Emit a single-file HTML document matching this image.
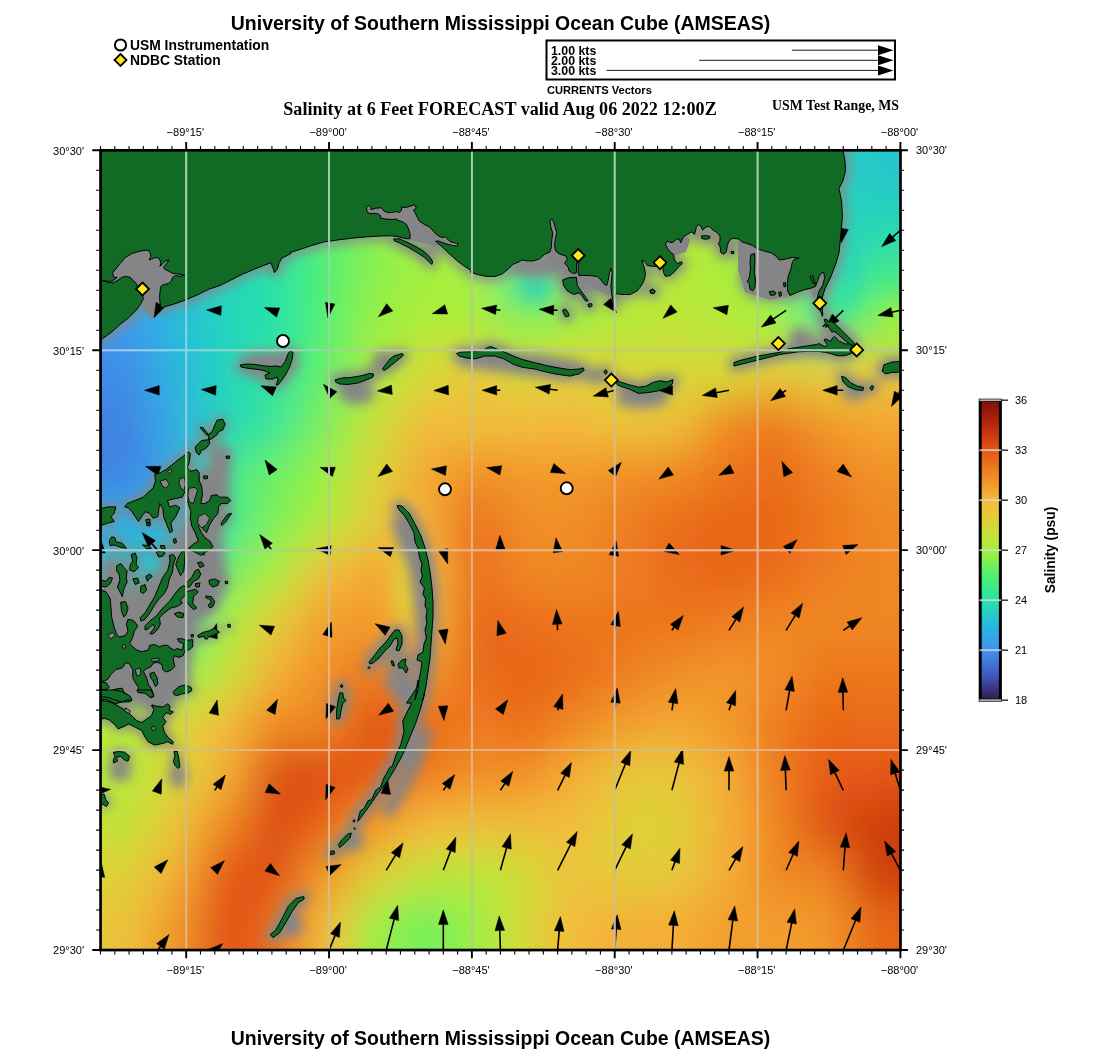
<!DOCTYPE html>
<html><head><meta charset="utf-8"><title>USM Ocean Cube</title>
<style>html,body{margin:0;padding:0;background:#fff}body{width:1100px;height:1050px;overflow:hidden}svg text{filter:url(#idt)}</style></head>
<body>
<svg width="1100" height="1050" viewBox="0 0 1100 1050" style="display:block">
<defs>
<clipPath id="mapclip"><rect x="100.55" y="150.3" width="799.95" height="799.75"/></clipPath>
<filter id="blur" x="-20%" y="-20%" width="140%" height="140%"><feGaussianBlur stdDeviation="22"/></filter>
<filter id="blur2" x="-50%" y="-50%" width="200%" height="200%"><feGaussianBlur stdDeviation="6"/></filter>
<filter id="blur3" x="-50%" y="-50%" width="200%" height="200%"><feGaussianBlur stdDeviation="10"/></filter>
<linearGradient id="cb" x1="0" y1="1" x2="0" y2="0">
<stop offset="0.0000" stop-color="#321946"/>
<stop offset="0.0833" stop-color="#415abe"/>
<stop offset="0.1667" stop-color="#4191f0"/>
<stop offset="0.2500" stop-color="#28b9dc"/>
<stop offset="0.3333" stop-color="#28e1aa"/>
<stop offset="0.4167" stop-color="#50f06e"/>
<stop offset="0.5000" stop-color="#a5f03c"/>
<stop offset="0.5833" stop-color="#d7d737"/>
<stop offset="0.6667" stop-color="#f5b93c"/>
<stop offset="0.7500" stop-color="#f08723"/>
<stop offset="0.8333" stop-color="#e45514"/>
<stop offset="0.9167" stop-color="#b9280f"/>
<stop offset="1.0000" stop-color="#7d0f0a"/>
</linearGradient>
<filter id="idt" x="-5%" y="-5%" width="110%" height="110%"><feOffset dx="0" dy="0"/></filter>
</defs>
<rect width="1100" height="1050" fill="#fff"/>
<text x="500.5" y="29.5" text-anchor="middle" style="font-family:&quot;Liberation Sans&quot;,sans-serif;font-weight:bold;font-size:19.47px">University of Southern Mississippi Ocean Cube (AMSEAS)</text>
<text x="500.5" y="1045" text-anchor="middle" style="font-family:&quot;Liberation Sans&quot;,sans-serif;font-weight:bold;font-size:19.47px">University of Southern Mississippi Ocean Cube (AMSEAS)</text>
<circle cx="120.5" cy="45" r="5.6" fill="#fff" stroke="#000" stroke-width="2"/>
<path d="M120.5 54 L126.5 60 L120.5 66 L114.5 60 Z" fill="#ffe81a" stroke="#000" stroke-width="1.8"/>
<text x="130" y="50" style="font-family:&quot;Liberation Sans&quot;,sans-serif;font-weight:bold;font-size:13.85px">USM Instrumentation</text>
<text x="130" y="65" style="font-family:&quot;Liberation Sans&quot;,sans-serif;font-weight:bold;font-size:13.85px">NDBC Station</text>
<rect x="546.5" y="40.5" width="348.5" height="39" fill="#fff" stroke="#000" stroke-width="2"/>
<text x="551" y="55" style="font-family:&quot;Liberation Sans&quot;,sans-serif;font-weight:bold;font-size:12.35px">1.00 kts</text>
<line x1="791.8" y1="50.2" x2="880" y2="50.2" stroke="#000" stroke-width="0.9"/>
<path d="M893.5 50.2 L878 45.2 L878 55.2 Z" fill="#000"/>
<text x="551" y="65" style="font-family:&quot;Liberation Sans&quot;,sans-serif;font-weight:bold;font-size:12.35px">2.00 kts</text>
<line x1="699" y1="60.300000000000004" x2="880" y2="60.300000000000004" stroke="#000" stroke-width="0.9"/>
<path d="M893.5 60.300000000000004 L878 55.300000000000004 L878 65.30000000000001 Z" fill="#000"/>
<text x="551" y="75" style="font-family:&quot;Liberation Sans&quot;,sans-serif;font-weight:bold;font-size:12.35px">3.00 kts</text>
<line x1="606.7" y1="70.4" x2="880" y2="70.4" stroke="#000" stroke-width="0.9"/>
<path d="M893.5 70.4 L878 65.4 L878 75.4 Z" fill="#000"/>
<text x="547" y="94" style="font-family:&quot;Liberation Sans&quot;,sans-serif;font-weight:bold;font-size:11.1px">CURRENTS Vectors</text>
<text x="500" y="114.5" text-anchor="middle" style="font-family:&quot;Liberation Serif&quot;,serif;font-weight:bold;font-size:18.1px">Salinity at 6 Feet FORECAST valid Aug 06 2022 12:00Z</text>
<text x="899" y="110" text-anchor="end" style="font-family:&quot;Liberation Serif&quot;,serif;font-weight:bold;font-size:13.85px">USM Test Range, MS</text>
<g clip-path="url(#mapclip)">
<rect x="100.55" y="150.3" width="799.95" height="799.75" fill="#f08723"/>
<g filter="url(#blur)">
<rect x="0" y="50" width="50.5" height="50.5" fill="#30ace3"/>
<rect x="50" y="50" width="50.5" height="50.5" fill="#30ace3"/>
<rect x="100" y="50" width="50.5" height="50.5" fill="#30ace3"/>
<rect x="150" y="50" width="50.5" height="50.5" fill="#28b9dc"/>
<rect x="200" y="50" width="50.5" height="50.5" fill="#28d4bb"/>
<rect x="250" y="50" width="50.5" height="50.5" fill="#28e1aa"/>
<rect x="300" y="50" width="50.5" height="50.5" fill="#50f06e"/>
<rect x="350" y="50" width="50.5" height="50.5" fill="#89f04d"/>
<rect x="400" y="50" width="50.5" height="50.5" fill="#a5f03c"/>
<rect x="450" y="50" width="50.5" height="50.5" fill="#a5f03c"/>
<rect x="500" y="50" width="50.5" height="50.5" fill="#43eb82"/>
<rect x="550" y="50" width="50.5" height="50.5" fill="#a5f03c"/>
<rect x="600" y="50" width="50.5" height="50.5" fill="#b6e83a"/>
<rect x="650" y="50" width="50.5" height="50.5" fill="#b6e83a"/>
<rect x="700" y="50" width="50.5" height="50.5" fill="#afeb3b"/>
<rect x="750" y="50" width="50.5" height="50.5" fill="#6cf05d"/>
<rect x="800" y="50" width="50.5" height="50.5" fill="#28d4bb"/>
<rect x="850" y="50" width="50.5" height="50.5" fill="#28c6cb"/>
<rect x="900" y="50" width="50.5" height="50.5" fill="#28c6cb"/>
<rect x="950" y="50" width="50.5" height="50.5" fill="#28c6cb"/>
<rect x="0" y="100" width="50.5" height="50.5" fill="#30ace3"/>
<rect x="50" y="100" width="50.5" height="50.5" fill="#30ace3"/>
<rect x="100" y="100" width="50.5" height="50.5" fill="#30ace3"/>
<rect x="150" y="100" width="50.5" height="50.5" fill="#28b9dc"/>
<rect x="200" y="100" width="50.5" height="50.5" fill="#28d4bb"/>
<rect x="250" y="100" width="50.5" height="50.5" fill="#28e1aa"/>
<rect x="300" y="100" width="50.5" height="50.5" fill="#50f06e"/>
<rect x="350" y="100" width="50.5" height="50.5" fill="#89f04d"/>
<rect x="400" y="100" width="50.5" height="50.5" fill="#a5f03c"/>
<rect x="450" y="100" width="50.5" height="50.5" fill="#a5f03c"/>
<rect x="500" y="100" width="50.5" height="50.5" fill="#43eb82"/>
<rect x="550" y="100" width="50.5" height="50.5" fill="#a5f03c"/>
<rect x="600" y="100" width="50.5" height="50.5" fill="#b6e83a"/>
<rect x="650" y="100" width="50.5" height="50.5" fill="#b6e83a"/>
<rect x="700" y="100" width="50.5" height="50.5" fill="#afeb3b"/>
<rect x="750" y="100" width="50.5" height="50.5" fill="#6cf05d"/>
<rect x="800" y="100" width="50.5" height="50.5" fill="#28d4bb"/>
<rect x="850" y="100" width="50.5" height="50.5" fill="#28c6cb"/>
<rect x="900" y="100" width="50.5" height="50.5" fill="#28c6cb"/>
<rect x="950" y="100" width="50.5" height="50.5" fill="#28c6cb"/>
<rect x="0" y="150" width="50.5" height="50.5" fill="#30ace3"/>
<rect x="50" y="150" width="50.5" height="50.5" fill="#30ace3"/>
<rect x="100" y="150" width="50.5" height="50.5" fill="#30ace3"/>
<rect x="150" y="150" width="50.5" height="50.5" fill="#28b9dc"/>
<rect x="200" y="150" width="50.5" height="50.5" fill="#28d4bb"/>
<rect x="250" y="150" width="50.5" height="50.5" fill="#28e1aa"/>
<rect x="300" y="150" width="50.5" height="50.5" fill="#50f06e"/>
<rect x="350" y="150" width="50.5" height="50.5" fill="#89f04d"/>
<rect x="400" y="150" width="50.5" height="50.5" fill="#a5f03c"/>
<rect x="450" y="150" width="50.5" height="50.5" fill="#a5f03c"/>
<rect x="500" y="150" width="50.5" height="50.5" fill="#43eb82"/>
<rect x="550" y="150" width="50.5" height="50.5" fill="#a5f03c"/>
<rect x="600" y="150" width="50.5" height="50.5" fill="#b6e83a"/>
<rect x="650" y="150" width="50.5" height="50.5" fill="#b6e83a"/>
<rect x="700" y="150" width="50.5" height="50.5" fill="#afeb3b"/>
<rect x="750" y="150" width="50.5" height="50.5" fill="#6cf05d"/>
<rect x="800" y="150" width="50.5" height="50.5" fill="#28d4bb"/>
<rect x="850" y="150" width="50.5" height="50.5" fill="#28c6cb"/>
<rect x="900" y="150" width="50.5" height="50.5" fill="#28c6cb"/>
<rect x="950" y="150" width="50.5" height="50.5" fill="#28c6cb"/>
<rect x="0" y="200" width="50.5" height="50.5" fill="#30ace3"/>
<rect x="50" y="200" width="50.5" height="50.5" fill="#30ace3"/>
<rect x="100" y="200" width="50.5" height="50.5" fill="#30ace3"/>
<rect x="150" y="200" width="50.5" height="50.5" fill="#28b9dc"/>
<rect x="200" y="200" width="50.5" height="50.5" fill="#28d4bb"/>
<rect x="250" y="200" width="50.5" height="50.5" fill="#28e1aa"/>
<rect x="300" y="200" width="50.5" height="50.5" fill="#50f06e"/>
<rect x="350" y="200" width="50.5" height="50.5" fill="#89f04d"/>
<rect x="400" y="200" width="50.5" height="50.5" fill="#a5f03c"/>
<rect x="450" y="200" width="50.5" height="50.5" fill="#a5f03c"/>
<rect x="500" y="200" width="50.5" height="50.5" fill="#43eb82"/>
<rect x="550" y="200" width="50.5" height="50.5" fill="#a5f03c"/>
<rect x="600" y="200" width="50.5" height="50.5" fill="#b6e83a"/>
<rect x="650" y="200" width="50.5" height="50.5" fill="#b6e83a"/>
<rect x="700" y="200" width="50.5" height="50.5" fill="#afeb3b"/>
<rect x="750" y="200" width="50.5" height="50.5" fill="#6cf05d"/>
<rect x="800" y="200" width="50.5" height="50.5" fill="#28d4bb"/>
<rect x="850" y="200" width="50.5" height="50.5" fill="#28d6b7"/>
<rect x="900" y="200" width="50.5" height="50.5" fill="#28d6b7"/>
<rect x="950" y="200" width="50.5" height="50.5" fill="#28d6b7"/>
<rect x="0" y="250" width="50.5" height="50.5" fill="#34a6e5"/>
<rect x="50" y="250" width="50.5" height="50.5" fill="#34a6e5"/>
<rect x="100" y="250" width="50.5" height="50.5" fill="#34a6e5"/>
<rect x="150" y="250" width="50.5" height="50.5" fill="#28b9dc"/>
<rect x="200" y="250" width="50.5" height="50.5" fill="#28d4bb"/>
<rect x="250" y="250" width="50.5" height="50.5" fill="#28e1aa"/>
<rect x="300" y="250" width="50.5" height="50.5" fill="#50f06e"/>
<rect x="350" y="250" width="50.5" height="50.5" fill="#89f04d"/>
<rect x="400" y="250" width="50.5" height="50.5" fill="#a5f03c"/>
<rect x="450" y="250" width="50.5" height="50.5" fill="#a5f03c"/>
<rect x="500" y="250" width="50.5" height="50.5" fill="#35e696"/>
<rect x="550" y="250" width="50.5" height="50.5" fill="#89f04d"/>
<rect x="600" y="250" width="50.5" height="50.5" fill="#afeb3b"/>
<rect x="650" y="250" width="50.5" height="50.5" fill="#afeb3b"/>
<rect x="700" y="250" width="50.5" height="50.5" fill="#afeb3b"/>
<rect x="750" y="250" width="50.5" height="50.5" fill="#89f04d"/>
<rect x="800" y="250" width="50.5" height="50.5" fill="#28d4bb"/>
<rect x="850" y="250" width="50.5" height="50.5" fill="#3de98a"/>
<rect x="900" y="250" width="50.5" height="50.5" fill="#3de98a"/>
<rect x="950" y="250" width="50.5" height="50.5" fill="#3de98a"/>
<rect x="0" y="300" width="50.5" height="50.5" fill="#3e96ed"/>
<rect x="50" y="300" width="50.5" height="50.5" fill="#3e96ed"/>
<rect x="100" y="300" width="50.5" height="50.5" fill="#3e96ed"/>
<rect x="150" y="300" width="50.5" height="50.5" fill="#28b9dc"/>
<rect x="200" y="300" width="50.5" height="50.5" fill="#28d4bb"/>
<rect x="250" y="300" width="50.5" height="50.5" fill="#28e1aa"/>
<rect x="300" y="300" width="50.5" height="50.5" fill="#50f06e"/>
<rect x="350" y="300" width="50.5" height="50.5" fill="#9af043"/>
<rect x="400" y="300" width="50.5" height="50.5" fill="#afeb3b"/>
<rect x="450" y="300" width="50.5" height="50.5" fill="#aced3b"/>
<rect x="500" y="300" width="50.5" height="50.5" fill="#89f04d"/>
<rect x="550" y="300" width="50.5" height="50.5" fill="#a5f03c"/>
<rect x="600" y="300" width="50.5" height="50.5" fill="#b6e83a"/>
<rect x="650" y="300" width="50.5" height="50.5" fill="#c0e339"/>
<rect x="700" y="300" width="50.5" height="50.5" fill="#b6e83a"/>
<rect x="750" y="300" width="50.5" height="50.5" fill="#a5f03c"/>
<rect x="800" y="300" width="50.5" height="50.5" fill="#43eb82"/>
<rect x="850" y="300" width="50.5" height="50.5" fill="#7df053"/>
<rect x="900" y="300" width="50.5" height="50.5" fill="#7df053"/>
<rect x="950" y="300" width="50.5" height="50.5" fill="#7df053"/>
<rect x="0" y="350" width="50.5" height="50.5" fill="#418ae9"/>
<rect x="50" y="350" width="50.5" height="50.5" fill="#418ae9"/>
<rect x="100" y="350" width="50.5" height="50.5" fill="#418ae9"/>
<rect x="150" y="350" width="50.5" height="50.5" fill="#2bb4df"/>
<rect x="200" y="350" width="50.5" height="50.5" fill="#28d4bb"/>
<rect x="250" y="350" width="50.5" height="50.5" fill="#30e49e"/>
<rect x="300" y="350" width="50.5" height="50.5" fill="#61f064"/>
<rect x="350" y="350" width="50.5" height="50.5" fill="#aced3b"/>
<rect x="400" y="350" width="50.5" height="50.5" fill="#d7d737"/>
<rect x="450" y="350" width="50.5" height="50.5" fill="#ebc33a"/>
<rect x="500" y="350" width="50.5" height="50.5" fill="#d7d737"/>
<rect x="550" y="350" width="50.5" height="50.5" fill="#e1cd39"/>
<rect x="600" y="350" width="50.5" height="50.5" fill="#dbd338"/>
<rect x="650" y="350" width="50.5" height="50.5" fill="#d7d737"/>
<rect x="700" y="350" width="50.5" height="50.5" fill="#d7d737"/>
<rect x="750" y="350" width="50.5" height="50.5" fill="#ebc33a"/>
<rect x="800" y="350" width="50.5" height="50.5" fill="#e1cd39"/>
<rect x="850" y="350" width="50.5" height="50.5" fill="#ebc33a"/>
<rect x="900" y="350" width="50.5" height="50.5" fill="#ebc33a"/>
<rect x="950" y="350" width="50.5" height="50.5" fill="#ebc33a"/>
<rect x="0" y="400" width="50.5" height="50.5" fill="#4182e3"/>
<rect x="50" y="400" width="50.5" height="50.5" fill="#4182e3"/>
<rect x="100" y="400" width="50.5" height="50.5" fill="#4182e3"/>
<rect x="150" y="400" width="50.5" height="50.5" fill="#30ace3"/>
<rect x="200" y="400" width="50.5" height="50.5" fill="#28d4bb"/>
<rect x="250" y="400" width="50.5" height="50.5" fill="#35e696"/>
<rect x="300" y="400" width="50.5" height="50.5" fill="#7df053"/>
<rect x="350" y="400" width="50.5" height="50.5" fill="#c6df39"/>
<rect x="400" y="400" width="50.5" height="50.5" fill="#f5b93c"/>
<rect x="450" y="400" width="50.5" height="50.5" fill="#edc13b"/>
<rect x="500" y="400" width="50.5" height="50.5" fill="#f5b93c"/>
<rect x="550" y="400" width="50.5" height="50.5" fill="#f5b93c"/>
<rect x="600" y="400" width="50.5" height="50.5" fill="#ebc33a"/>
<rect x="650" y="400" width="50.5" height="50.5" fill="#edc13b"/>
<rect x="700" y="400" width="50.5" height="50.5" fill="#f08723"/>
<rect x="750" y="400" width="50.5" height="50.5" fill="#ec761e"/>
<rect x="800" y="400" width="50.5" height="50.5" fill="#f2982b"/>
<rect x="850" y="400" width="50.5" height="50.5" fill="#f3a532"/>
<rect x="900" y="400" width="50.5" height="50.5" fill="#f3a532"/>
<rect x="950" y="400" width="50.5" height="50.5" fill="#f3a532"/>
<rect x="0" y="450" width="50.5" height="50.5" fill="#4182e3"/>
<rect x="50" y="450" width="50.5" height="50.5" fill="#4182e3"/>
<rect x="100" y="450" width="50.5" height="50.5" fill="#4182e3"/>
<rect x="150" y="450" width="50.5" height="50.5" fill="#34a6e5"/>
<rect x="200" y="450" width="50.5" height="50.5" fill="#3de98a"/>
<rect x="250" y="450" width="50.5" height="50.5" fill="#6cf05d"/>
<rect x="300" y="450" width="50.5" height="50.5" fill="#9af043"/>
<rect x="350" y="450" width="50.5" height="50.5" fill="#ddd138"/>
<rect x="400" y="450" width="50.5" height="50.5" fill="#f3a834"/>
<rect x="450" y="450" width="50.5" height="50.5" fill="#f18e26"/>
<rect x="500" y="450" width="50.5" height="50.5" fill="#f2982b"/>
<rect x="550" y="450" width="50.5" height="50.5" fill="#f2982b"/>
<rect x="600" y="450" width="50.5" height="50.5" fill="#f18e26"/>
<rect x="650" y="450" width="50.5" height="50.5" fill="#f08723"/>
<rect x="700" y="450" width="50.5" height="50.5" fill="#ec761e"/>
<rect x="750" y="450" width="50.5" height="50.5" fill="#ea6c1b"/>
<rect x="800" y="450" width="50.5" height="50.5" fill="#ee7d20"/>
<rect x="850" y="450" width="50.5" height="50.5" fill="#f19128"/>
<rect x="900" y="450" width="50.5" height="50.5" fill="#f19128"/>
<rect x="950" y="450" width="50.5" height="50.5" fill="#f19128"/>
<rect x="0" y="500" width="50.5" height="50.5" fill="#30ace3"/>
<rect x="50" y="500" width="50.5" height="50.5" fill="#30ace3"/>
<rect x="100" y="500" width="50.5" height="50.5" fill="#30ace3"/>
<rect x="150" y="500" width="50.5" height="50.5" fill="#28b9dc"/>
<rect x="200" y="500" width="50.5" height="50.5" fill="#35e696"/>
<rect x="250" y="500" width="50.5" height="50.5" fill="#7df053"/>
<rect x="300" y="500" width="50.5" height="50.5" fill="#afeb3b"/>
<rect x="350" y="500" width="50.5" height="50.5" fill="#e7c73a"/>
<rect x="400" y="500" width="50.5" height="50.5" fill="#f4af37"/>
<rect x="450" y="500" width="50.5" height="50.5" fill="#ea6c1b"/>
<rect x="500" y="500" width="50.5" height="50.5" fill="#f18e26"/>
<rect x="550" y="500" width="50.5" height="50.5" fill="#f18e26"/>
<rect x="600" y="500" width="50.5" height="50.5" fill="#ee7d20"/>
<rect x="650" y="500" width="50.5" height="50.5" fill="#ea6c1b"/>
<rect x="700" y="500" width="50.5" height="50.5" fill="#e86619"/>
<rect x="750" y="500" width="50.5" height="50.5" fill="#e86619"/>
<rect x="800" y="500" width="50.5" height="50.5" fill="#ec761e"/>
<rect x="850" y="500" width="50.5" height="50.5" fill="#f08723"/>
<rect x="900" y="500" width="50.5" height="50.5" fill="#f08723"/>
<rect x="950" y="500" width="50.5" height="50.5" fill="#f08723"/>
<rect x="0" y="550" width="50.5" height="50.5" fill="#28c6cb"/>
<rect x="50" y="550" width="50.5" height="50.5" fill="#28c6cb"/>
<rect x="100" y="550" width="50.5" height="50.5" fill="#28c6cb"/>
<rect x="150" y="550" width="50.5" height="50.5" fill="#28c6cb"/>
<rect x="200" y="550" width="50.5" height="50.5" fill="#6cf05d"/>
<rect x="250" y="550" width="50.5" height="50.5" fill="#aced3b"/>
<rect x="300" y="550" width="50.5" height="50.5" fill="#f5b93c"/>
<rect x="350" y="550" width="50.5" height="50.5" fill="#f3a532"/>
<rect x="400" y="550" width="50.5" height="50.5" fill="#f5b93c"/>
<rect x="450" y="550" width="50.5" height="50.5" fill="#ea6c1b"/>
<rect x="500" y="550" width="50.5" height="50.5" fill="#f08723"/>
<rect x="550" y="550" width="50.5" height="50.5" fill="#f08723"/>
<rect x="600" y="550" width="50.5" height="50.5" fill="#ee7d20"/>
<rect x="650" y="550" width="50.5" height="50.5" fill="#ea6c1b"/>
<rect x="700" y="550" width="50.5" height="50.5" fill="#e86619"/>
<rect x="750" y="550" width="50.5" height="50.5" fill="#ea6c1b"/>
<rect x="800" y="550" width="50.5" height="50.5" fill="#ee7d20"/>
<rect x="850" y="550" width="50.5" height="50.5" fill="#f08723"/>
<rect x="900" y="550" width="50.5" height="50.5" fill="#f08723"/>
<rect x="950" y="550" width="50.5" height="50.5" fill="#f08723"/>
<rect x="0" y="600" width="50.5" height="50.5" fill="#43eb82"/>
<rect x="50" y="600" width="50.5" height="50.5" fill="#43eb82"/>
<rect x="100" y="600" width="50.5" height="50.5" fill="#43eb82"/>
<rect x="150" y="600" width="50.5" height="50.5" fill="#43eb82"/>
<rect x="200" y="600" width="50.5" height="50.5" fill="#a5f03c"/>
<rect x="250" y="600" width="50.5" height="50.5" fill="#e7c73a"/>
<rect x="300" y="600" width="50.5" height="50.5" fill="#f29e2f"/>
<rect x="350" y="600" width="50.5" height="50.5" fill="#f2982b"/>
<rect x="400" y="600" width="50.5" height="50.5" fill="#f5b93c"/>
<rect x="450" y="600" width="50.5" height="50.5" fill="#e86619"/>
<rect x="500" y="600" width="50.5" height="50.5" fill="#ea6c1b"/>
<rect x="550" y="600" width="50.5" height="50.5" fill="#ec761e"/>
<rect x="600" y="600" width="50.5" height="50.5" fill="#ec761e"/>
<rect x="650" y="600" width="50.5" height="50.5" fill="#ec761e"/>
<rect x="700" y="600" width="50.5" height="50.5" fill="#ee7d20"/>
<rect x="750" y="600" width="50.5" height="50.5" fill="#f08723"/>
<rect x="800" y="600" width="50.5" height="50.5" fill="#f08723"/>
<rect x="850" y="600" width="50.5" height="50.5" fill="#f08723"/>
<rect x="900" y="600" width="50.5" height="50.5" fill="#f08723"/>
<rect x="950" y="600" width="50.5" height="50.5" fill="#f08723"/>
<rect x="0" y="650" width="50.5" height="50.5" fill="#89f04d"/>
<rect x="50" y="650" width="50.5" height="50.5" fill="#89f04d"/>
<rect x="100" y="650" width="50.5" height="50.5" fill="#89f04d"/>
<rect x="150" y="650" width="50.5" height="50.5" fill="#89f04d"/>
<rect x="200" y="650" width="50.5" height="50.5" fill="#c0e339"/>
<rect x="250" y="650" width="50.5" height="50.5" fill="#f4af37"/>
<rect x="300" y="650" width="50.5" height="50.5" fill="#f18e26"/>
<rect x="350" y="650" width="50.5" height="50.5" fill="#ec761e"/>
<rect x="400" y="650" width="50.5" height="50.5" fill="#f2982b"/>
<rect x="450" y="650" width="50.5" height="50.5" fill="#ea6c1b"/>
<rect x="500" y="650" width="50.5" height="50.5" fill="#e86619"/>
<rect x="550" y="650" width="50.5" height="50.5" fill="#ea6c1b"/>
<rect x="600" y="650" width="50.5" height="50.5" fill="#ee7d20"/>
<rect x="650" y="650" width="50.5" height="50.5" fill="#f18e26"/>
<rect x="700" y="650" width="50.5" height="50.5" fill="#f2982b"/>
<rect x="750" y="650" width="50.5" height="50.5" fill="#f18e26"/>
<rect x="800" y="650" width="50.5" height="50.5" fill="#ec761e"/>
<rect x="850" y="650" width="50.5" height="50.5" fill="#ec761e"/>
<rect x="900" y="650" width="50.5" height="50.5" fill="#ec761e"/>
<rect x="950" y="650" width="50.5" height="50.5" fill="#ec761e"/>
<rect x="0" y="700" width="50.5" height="50.5" fill="#b6e83a"/>
<rect x="50" y="700" width="50.5" height="50.5" fill="#b6e83a"/>
<rect x="100" y="700" width="50.5" height="50.5" fill="#b6e83a"/>
<rect x="150" y="700" width="50.5" height="50.5" fill="#d7d737"/>
<rect x="200" y="700" width="50.5" height="50.5" fill="#f5b93c"/>
<rect x="250" y="700" width="50.5" height="50.5" fill="#f08723"/>
<rect x="300" y="700" width="50.5" height="50.5" fill="#f08723"/>
<rect x="350" y="700" width="50.5" height="50.5" fill="#de4f13"/>
<rect x="400" y="700" width="50.5" height="50.5" fill="#e86619"/>
<rect x="450" y="700" width="50.5" height="50.5" fill="#ee7d20"/>
<rect x="500" y="700" width="50.5" height="50.5" fill="#ea6c1b"/>
<rect x="550" y="700" width="50.5" height="50.5" fill="#f08723"/>
<rect x="600" y="700" width="50.5" height="50.5" fill="#f29e2f"/>
<rect x="650" y="700" width="50.5" height="50.5" fill="#f3a834"/>
<rect x="700" y="700" width="50.5" height="50.5" fill="#f2982b"/>
<rect x="750" y="700" width="50.5" height="50.5" fill="#ee7d20"/>
<rect x="800" y="700" width="50.5" height="50.5" fill="#e86619"/>
<rect x="850" y="700" width="50.5" height="50.5" fill="#ea6c1b"/>
<rect x="900" y="700" width="50.5" height="50.5" fill="#ea6c1b"/>
<rect x="950" y="700" width="50.5" height="50.5" fill="#ea6c1b"/>
<rect x="0" y="750" width="50.5" height="50.5" fill="#b6e83a"/>
<rect x="50" y="750" width="50.5" height="50.5" fill="#b6e83a"/>
<rect x="100" y="750" width="50.5" height="50.5" fill="#b6e83a"/>
<rect x="150" y="750" width="50.5" height="50.5" fill="#d7d737"/>
<rect x="200" y="750" width="50.5" height="50.5" fill="#f4af37"/>
<rect x="250" y="750" width="50.5" height="50.5" fill="#db4c13"/>
<rect x="300" y="750" width="50.5" height="50.5" fill="#db4c13"/>
<rect x="350" y="750" width="50.5" height="50.5" fill="#e65c16"/>
<rect x="400" y="750" width="50.5" height="50.5" fill="#ee7d20"/>
<rect x="450" y="750" width="50.5" height="50.5" fill="#f18e26"/>
<rect x="500" y="750" width="50.5" height="50.5" fill="#f18e26"/>
<rect x="550" y="750" width="50.5" height="50.5" fill="#f4af37"/>
<rect x="600" y="750" width="50.5" height="50.5" fill="#e7c73a"/>
<rect x="650" y="750" width="50.5" height="50.5" fill="#e7c73a"/>
<rect x="700" y="750" width="50.5" height="50.5" fill="#f4af37"/>
<rect x="750" y="750" width="50.5" height="50.5" fill="#ee7d20"/>
<rect x="800" y="750" width="50.5" height="50.5" fill="#e65c16"/>
<rect x="850" y="750" width="50.5" height="50.5" fill="#e45514"/>
<rect x="900" y="750" width="50.5" height="50.5" fill="#e45514"/>
<rect x="950" y="750" width="50.5" height="50.5" fill="#e45514"/>
<rect x="0" y="800" width="50.5" height="50.5" fill="#c0e339"/>
<rect x="50" y="800" width="50.5" height="50.5" fill="#c0e339"/>
<rect x="100" y="800" width="50.5" height="50.5" fill="#c0e339"/>
<rect x="150" y="800" width="50.5" height="50.5" fill="#ebc33a"/>
<rect x="200" y="800" width="50.5" height="50.5" fill="#f08723"/>
<rect x="250" y="800" width="50.5" height="50.5" fill="#d94913"/>
<rect x="300" y="800" width="50.5" height="50.5" fill="#e86619"/>
<rect x="350" y="800" width="50.5" height="50.5" fill="#f2982b"/>
<rect x="400" y="800" width="50.5" height="50.5" fill="#f5b93c"/>
<rect x="450" y="800" width="50.5" height="50.5" fill="#f1bd3b"/>
<rect x="500" y="800" width="50.5" height="50.5" fill="#f1bd3b"/>
<rect x="550" y="800" width="50.5" height="50.5" fill="#f1bd3b"/>
<rect x="600" y="800" width="50.5" height="50.5" fill="#ddd138"/>
<rect x="650" y="800" width="50.5" height="50.5" fill="#ddd138"/>
<rect x="700" y="800" width="50.5" height="50.5" fill="#f4af37"/>
<rect x="750" y="800" width="50.5" height="50.5" fill="#f08723"/>
<rect x="800" y="800" width="50.5" height="50.5" fill="#de4f13"/>
<rect x="850" y="800" width="50.5" height="50.5" fill="#cd3d11"/>
<rect x="900" y="800" width="50.5" height="50.5" fill="#cd3d11"/>
<rect x="950" y="800" width="50.5" height="50.5" fill="#cd3d11"/>
<rect x="0" y="850" width="50.5" height="50.5" fill="#ddd138"/>
<rect x="50" y="850" width="50.5" height="50.5" fill="#ddd138"/>
<rect x="100" y="850" width="50.5" height="50.5" fill="#ddd138"/>
<rect x="150" y="850" width="50.5" height="50.5" fill="#f4af37"/>
<rect x="200" y="850" width="50.5" height="50.5" fill="#e45514"/>
<rect x="250" y="850" width="50.5" height="50.5" fill="#de4f13"/>
<rect x="300" y="850" width="50.5" height="50.5" fill="#f2982b"/>
<rect x="350" y="850" width="50.5" height="50.5" fill="#e1cd39"/>
<rect x="400" y="850" width="50.5" height="50.5" fill="#c0e339"/>
<rect x="450" y="850" width="50.5" height="50.5" fill="#b6e83a"/>
<rect x="500" y="850" width="50.5" height="50.5" fill="#d0da38"/>
<rect x="550" y="850" width="50.5" height="50.5" fill="#ebc33a"/>
<rect x="600" y="850" width="50.5" height="50.5" fill="#e1cd39"/>
<rect x="650" y="850" width="50.5" height="50.5" fill="#e7c73a"/>
<rect x="700" y="850" width="50.5" height="50.5" fill="#f4af37"/>
<rect x="750" y="850" width="50.5" height="50.5" fill="#f08723"/>
<rect x="800" y="850" width="50.5" height="50.5" fill="#ef8422"/>
<rect x="850" y="850" width="50.5" height="50.5" fill="#cd3d11"/>
<rect x="900" y="850" width="50.5" height="50.5" fill="#cd3d11"/>
<rect x="950" y="850" width="50.5" height="50.5" fill="#cd3d11"/>
<rect x="0" y="900" width="50.5" height="50.5" fill="#ebc33a"/>
<rect x="50" y="900" width="50.5" height="50.5" fill="#ebc33a"/>
<rect x="100" y="900" width="50.5" height="50.5" fill="#ebc33a"/>
<rect x="150" y="900" width="50.5" height="50.5" fill="#f2982b"/>
<rect x="200" y="900" width="50.5" height="50.5" fill="#de4f13"/>
<rect x="250" y="900" width="50.5" height="50.5" fill="#ea6c1b"/>
<rect x="300" y="900" width="50.5" height="50.5" fill="#f5b93c"/>
<rect x="350" y="900" width="50.5" height="50.5" fill="#9af043"/>
<rect x="400" y="900" width="50.5" height="50.5" fill="#6cf05d"/>
<rect x="450" y="900" width="50.5" height="50.5" fill="#9af043"/>
<rect x="500" y="900" width="50.5" height="50.5" fill="#d7d737"/>
<rect x="550" y="900" width="50.5" height="50.5" fill="#f5b93c"/>
<rect x="600" y="900" width="50.5" height="50.5" fill="#f4af37"/>
<rect x="650" y="900" width="50.5" height="50.5" fill="#f4af37"/>
<rect x="700" y="900" width="50.5" height="50.5" fill="#f29e2f"/>
<rect x="750" y="900" width="50.5" height="50.5" fill="#f29e2f"/>
<rect x="800" y="900" width="50.5" height="50.5" fill="#f2982b"/>
<rect x="850" y="900" width="50.5" height="50.5" fill="#e86619"/>
<rect x="900" y="900" width="50.5" height="50.5" fill="#e86619"/>
<rect x="950" y="900" width="50.5" height="50.5" fill="#e86619"/>
<rect x="0" y="950" width="50.5" height="50.5" fill="#ebc33a"/>
<rect x="50" y="950" width="50.5" height="50.5" fill="#ebc33a"/>
<rect x="100" y="950" width="50.5" height="50.5" fill="#ebc33a"/>
<rect x="150" y="950" width="50.5" height="50.5" fill="#f2982b"/>
<rect x="200" y="950" width="50.5" height="50.5" fill="#de4f13"/>
<rect x="250" y="950" width="50.5" height="50.5" fill="#ea6c1b"/>
<rect x="300" y="950" width="50.5" height="50.5" fill="#f5b93c"/>
<rect x="350" y="950" width="50.5" height="50.5" fill="#9af043"/>
<rect x="400" y="950" width="50.5" height="50.5" fill="#6cf05d"/>
<rect x="450" y="950" width="50.5" height="50.5" fill="#9af043"/>
<rect x="500" y="950" width="50.5" height="50.5" fill="#d7d737"/>
<rect x="550" y="950" width="50.5" height="50.5" fill="#f5b93c"/>
<rect x="600" y="950" width="50.5" height="50.5" fill="#f4af37"/>
<rect x="650" y="950" width="50.5" height="50.5" fill="#f4af37"/>
<rect x="700" y="950" width="50.5" height="50.5" fill="#f29e2f"/>
<rect x="750" y="950" width="50.5" height="50.5" fill="#f29e2f"/>
<rect x="800" y="950" width="50.5" height="50.5" fill="#f2982b"/>
<rect x="850" y="950" width="50.5" height="50.5" fill="#e86619"/>
<rect x="900" y="950" width="50.5" height="50.5" fill="#e86619"/>
<rect x="950" y="950" width="50.5" height="50.5" fill="#e86619"/>
<rect x="0" y="1000" width="50.5" height="50.5" fill="#ebc33a"/>
<rect x="50" y="1000" width="50.5" height="50.5" fill="#ebc33a"/>
<rect x="100" y="1000" width="50.5" height="50.5" fill="#ebc33a"/>
<rect x="150" y="1000" width="50.5" height="50.5" fill="#f2982b"/>
<rect x="200" y="1000" width="50.5" height="50.5" fill="#de4f13"/>
<rect x="250" y="1000" width="50.5" height="50.5" fill="#ea6c1b"/>
<rect x="300" y="1000" width="50.5" height="50.5" fill="#f5b93c"/>
<rect x="350" y="1000" width="50.5" height="50.5" fill="#9af043"/>
<rect x="400" y="1000" width="50.5" height="50.5" fill="#6cf05d"/>
<rect x="450" y="1000" width="50.5" height="50.5" fill="#9af043"/>
<rect x="500" y="1000" width="50.5" height="50.5" fill="#d7d737"/>
<rect x="550" y="1000" width="50.5" height="50.5" fill="#f5b93c"/>
<rect x="600" y="1000" width="50.5" height="50.5" fill="#f4af37"/>
<rect x="650" y="1000" width="50.5" height="50.5" fill="#f4af37"/>
<rect x="700" y="1000" width="50.5" height="50.5" fill="#f29e2f"/>
<rect x="750" y="1000" width="50.5" height="50.5" fill="#f29e2f"/>
<rect x="800" y="1000" width="50.5" height="50.5" fill="#f2982b"/>
<rect x="850" y="1000" width="50.5" height="50.5" fill="#e86619"/>
<rect x="900" y="1000" width="50.5" height="50.5" fill="#e86619"/>
<rect x="950" y="1000" width="50.5" height="50.5" fill="#e86619"/>
</g>
<g filter="url(#blur3)">
<ellipse cx="536" cy="288" rx="16" ry="12" fill="#28cec1"/>
<ellipse cx="405" cy="585" rx="9" ry="48" fill="#d9d537"/>
<ellipse cx="852" cy="255" rx="7" ry="45" fill="#28d6b7"/>
<ellipse cx="840" cy="302" rx="9" ry="14" fill="#2de3a2"/>
<ellipse cx="893" cy="325" rx="9" ry="28" fill="#aced3b"/>
</g>
<g fill="#858587">
<path d="M100 272 L112 262 L125 252 L150 248 L172 258 L186 272 L186 282 L170 286 L161 300 L163 312 L150 318 L140 300 L128 284 L112 284 L100 284 Z"/>
<path d="M362 200 L420 200 L432 232 L455 246 L460 250 L436 246 L410 240 L405 225 L380 222 L362 214 Z"/>
<path d="M548 218 L556 218 L558 250 L570 262 L580 272 L600 276 L612 282 L612 296 L596 290 L580 280 L548 262 Z"/>
<path d="M664 238 L670 230 L684 232 L690 240 L686 252 L672 256 L664 250 Z"/>
<path d="M738 240 L760 248 L790 256 L800 258 L792 276 L790 296 L770 300 L745 292 L738 270 Z"/>
<path d="M814 270 L826 270 L826 290 L818 300 L812 296 Z"/>
</g>
<g fill="#858587" stroke="#858587" stroke-linejoin="round" filter="url(#blur2)">
<path d="M90.0 140.0 L850.0 140.0 L842.9 150.0 L844.9 160.3 L845.5 170.6 L842.9 180.9 L839.0 188.6 L841.6 201.4 L842.4 216.9 L840.8 234.9 L839.0 252.9 L835.2 265.7 L830.0 278.6 L824.9 288.9 L821.8 299.2 L822.8 314.6 L822.4 316.4 L820.0 309.1 L817.3 298.2 L819.1 290.9 L822.7 285.5 L824.5 278.2 L824.0 272.7 L821.8 272.7 L819.1 276.4 L817.3 281.8 L815.5 286.4 L810.9 288.2 L803.6 290.0 L796.4 292.7 L790.0 295.5 L787.6 290.9 L787.3 283.6 L788.2 276.4 L790.9 269.1 L792.4 261.8 L794.5 259.1 L799.1 258.2 L792.7 257.3 L785.5 259.1 L779.1 260.0 L776.4 256.4 L770.9 252.7 L763.6 250.9 L756.4 248.2 L752.7 245.5 L747.3 243.6 L741.8 241.8 L739.1 239.1 L732.7 238.2 L729.1 240.9 L727.3 245.5 L726.4 251.8 L723.6 254.2 L720.9 252.7 L720.0 246.4 L718.2 243.6 L720.0 240.9 L720.0 236.4 L717.3 232.7 L712.7 230.0 L709.1 226.4 L705.5 227.3 L702.7 230.0 L700.9 226.4 L698.2 224.5 L696.4 227.3 L694.5 234.5 L691.8 231.8 L687.3 234.5 L683.6 236.4 L680.9 242.7 L679.1 239.1 L676.4 239.1 L673.6 241.8 L670.9 242.7 L667.3 240.9 L665.5 244.5 L667.3 248.2 L670.0 251.8 L673.6 254.5 L674.5 260.0 L677.3 263.6 L681.5 261.8 L682.2 263.6 L678.2 267.3 L674.5 271.8 L670.0 275.5 L665.5 276.4 L663.6 272.7 L662.7 266.4 L653.6 266.4 L647.3 265.5 L645.5 262.7 L641.8 260.0 L644.5 268.2 L645.5 274.5 L643.6 281.8 L640.0 287.3 L637.3 290.9 L630.0 294.5 L622.7 294.5 L615.5 293.6 L614.5 301.8 L613.6 307.3 L612.9 301.8 L611.8 294.5 L610.9 287.3 L611.5 280.0 L612.2 272.7 L610.9 268.2 L609.6 272.7 L608.2 280.0 L606.7 285.5 L604.5 284.5 L600.9 280.0 L597.3 276.4 L588.2 275.5 L579.1 275.5 L578.2 272.7 L578.2 262.7 L576.7 262.7 L576.4 272.7 L573.6 273.6 L569.1 270.9 L568.2 267.3 L564.5 262.7 L567.3 260.0 L566.4 256.4 L559.1 253.6 L555.5 250.9 L554.5 245.5 L555.5 238.2 L556.9 232.7 L555.1 227.3 L553.6 221.8 L551.8 219.1 L550.0 220.9 L550.9 227.3 L552.7 232.7 L551.8 240.0 L551.3 247.3 L550.0 251.8 L544.5 254.5 L539.1 259.1 L533.6 260.9 L526.4 260.9 L521.8 260.0 L519.1 261.8 L512.7 264.5 L508.2 269.1 L502.7 273.6 L495.5 276.4 L486.4 276.4 L477.3 274.5 L470.0 271.8 L471.8 270.9 L464.5 266.4 L457.3 260.9 L448.2 252.7 L440.9 245.5 L435.5 241.3 L438.2 240.9 L442.7 242.7 L448.2 244.5 L452.7 245.5 L457.3 246.0 L458.2 243.6 L451.8 242.4 L448.2 240.0 L445.5 236.9 L441.8 237.6 L437.3 235.1 L433.6 231.8 L430.0 227.3 L424.5 224.5 L419.1 220.9 L417.3 217.3 L415.5 213.6 L413.6 210.0 L416.4 208.2 L414.5 204.5 L410.9 206.0 L406.4 207.3 L401.3 207.3 L401.8 210.0 L399.1 212.7 L397.3 211.5 L393.6 212.2 L389.1 212.7 L384.5 211.5 L382.7 209.1 L380.9 207.8 L375.5 208.2 L370.9 209.6 L370.9 207.3 L369.1 205.5 L366.4 207.3 L366.9 210.9 L369.1 213.6 L372.7 213.3 L377.3 213.6 L380.4 215.5 L380.9 218.2 L386.4 219.1 L391.8 219.5 L396.4 219.1 L399.1 220.9 L402.7 221.8 L406.4 224.5 L408.2 228.2 L410.0 233.6 L410.0 238.7 L406.4 238.7 L399.1 236.9 L391.8 235.8 L380.9 236.0 L366.4 236.9 L351.8 238.2 L337.3 240.0 L324.5 241.8 L311.8 245.5 L300.9 249.1 L290.0 252.7 L290.9 253.6 L281.8 258.2 L279.1 262.7 L277.3 269.1 L274.5 272.7 L272.7 267.3 L270.9 262.7 L263.6 265.5 L254.5 269.1 L241.8 274.5 L230.9 280.0 L220.0 285.5 L209.1 289.1 L198.2 294.5 L185.5 300.0 L172.7 304.5 L160.9 307.8 L160.0 302.7 L159.6 297.3 L160.0 291.8 L160.9 286.4 L161.8 285.5 L164.5 284.5 L168.2 283.6 L170.9 281.8 L172.7 277.3 L175.5 275.5 L180.0 276.4 L184.5 275.1 L178.2 274.0 L172.7 273.3 L168.2 270.9 L164.5 269.1 L163.6 267.3 L166.4 263.6 L169.1 260.0 L165.5 260.9 L162.7 263.6 L160.0 266.4 L160.9 262.7 L159.1 258.2 L154.5 257.6 L151.8 259.1 L149.1 260.0 L150.9 256.4 L150.0 252.7 L148.2 250.0 L140.9 250.9 L131.8 253.6 L125.5 257.3 L120.0 263.6 L116.4 268.2 L112.7 272.7 L113.6 277.3 L117.3 277.3 L112.7 280.9 L108.2 281.3 L102.7 280.5 L108.2 282.4 L113.6 282.7 L118.2 280.0 L121.8 277.3 L125.5 276.4 L130.0 277.3 L136.4 283.6 L140.4 292.7 L143.6 298.2 L140.9 303.6 L136.4 310.0 L129.1 317.3 L120.0 324.5 L110.9 332.7 L101.8 339.1 L90.0 342.0 Z" stroke-width="9" fill="none"/>
<path d="M393.6 239.1 L399.1 238.7 L408.2 242.7 L417.3 247.3 L424.5 251.8 L430.0 257.3 L432.7 261.8 L431.8 264.5 L429.1 261.8 L424.5 257.3 L417.3 252.7 L408.2 247.3 L399.1 242.7 L394.5 240.9 Z" stroke-width="10"/>
<path d="M562.7 280.0 L568.2 277.8 L576.4 277.3 L577.3 285.5 L580.9 290.9 L586.4 298.2 L588.2 300.9 L585.5 300.9 L581.8 295.5 L579.1 292.7 L573.6 294.5 L567.3 290.9 L563.6 285.5 Z" stroke-width="10"/>
<path d="M588.2 304.0 L591.5 303.6 L592.2 305.8 L590.0 307.3 L588.2 306.4 Z" stroke-width="10"/>
<path d="M562.7 310.0 L565.5 309.1 L568.2 312.7 L569.1 316.0 L565.5 316.7 L563.6 313.6 Z" stroke-width="10"/>
<path d="M650.0 290.5 L652.7 289.1 L655.1 290.9 L654.0 293.1 L650.9 293.3 Z" stroke-width="10"/>
<path d="M750.9 254.5 L754.5 253.6 L754.9 261.8 L754.2 272.7 L755.5 280.0 L754.9 287.3 L752.7 290.9 L750.0 289.1 L749.1 283.6 L747.3 281.8 L749.1 278.2 L750.5 269.1 L750.0 261.8 Z" stroke-width="10"/>
<path d="M701.5 236.0 L705.5 235.5 L710.0 236.4 L709.5 238.5 L705.5 239.3 L701.8 238.5 Z" stroke-width="10"/>
<path d="M730.9 251.3 L733.6 251.3 L734.0 253.3 L731.5 253.8 Z" stroke-width="10"/>
<path d="M650.0 290.5 L652.7 289.1 L655.1 290.9 L654.5 293.1 L651.3 293.5 Z" stroke-width="10"/>
<path d="M769.1 291.8 L773.6 290.9 L776.0 292.7 L774.5 295.1 L770.5 295.3 Z" stroke-width="10"/>
<path d="M778.7 292.4 L780.9 291.8 L781.5 295.5 L779.6 296.4 Z" stroke-width="10"/>
<path d="M783.6 282.7 L785.5 282.7 L785.8 286.4 L784.0 286.9 Z" stroke-width="10"/>
<path d="M810.0 276.4 L812.4 275.5 L814.5 280.9 L815.5 284.5 L812.7 282.7 Z" stroke-width="10"/>
<path d="M734.0 362.5 L740.0 360.5 L758.0 356.0 L770.0 354.0 L780.0 352.3 L789.1 348.6 L798.2 347.3 L807.3 345.9 L816.4 344.5 L819.1 343.6 L822.7 345.5 L825.5 346.8 L827.3 344.5 L824.5 340.9 L824.5 339.1 L827.3 339.5 L830.9 341.4 L832.3 338.2 L834.5 336.4 L837.3 339.1 L839.1 341.4 L842.7 342.7 L845.5 344.1 L849.1 343.6 L851.8 345.5 L852.7 349.5 L851.8 353.2 L847.3 355.0 L841.8 355.9 L836.4 355.5 L830.9 353.6 L825.5 352.3 L818.2 351.4 L807.3 351.4 L798.2 351.8 L789.1 353.2 L780.0 354.5 L770.0 357.0 L758.0 360.0 L740.0 364.5 L734.0 366.0 Z" stroke-width="10"/>
<path d="M824.1 319.3 L826.8 319.5 L828.2 321.8 L831.8 321.4 L837.3 325.9 L842.7 331.4 L848.2 336.8 L853.6 342.3 L855.0 345.0 L852.7 345.5 L849.1 343.8 L843.6 339.3 L838.2 334.4 L834.5 331.6 L831.8 332.0 L830.0 329.3 L827.3 324.7 L822.7 326.5 L825.5 323.2 Z" stroke-width="10"/>
<path d="M841.6 376.3 L845.5 377.6 L850.6 382.8 L857.0 386.1 L863.5 387.4 L862.9 390.5 L855.7 389.7 L848.0 386.6 L842.9 381.5 Z" stroke-width="10"/>
<path d="M869.9 387.9 L872.2 385.3 L873.7 387.1 L871.7 390.5 Z" stroke-width="10"/>
<path d="M884.0 364.8 L891.7 362.2 L904.6 360.9 L904.6 371.7 L891.7 372.5 L885.3 373.8 L882.2 371.2 Z" stroke-width="10"/>
<path d="M240.0 365.0 L246.0 364.0 L254.0 364.4 L262.0 365.6 L270.0 366.4 L277.0 366.0 L281.0 367.0 L285.0 362.0 L288.0 354.0 L290.0 351.0 L293.0 352.0 L292.4 358.0 L290.0 366.0 L286.0 374.0 L282.0 380.0 L278.0 385.0 L276.0 385.0 L278.0 380.0 L277.0 377.0 L273.0 379.0 L266.0 379.0 L265.0 375.0 L270.0 373.0 L262.0 370.0 L254.0 369.0 L246.0 368.0 L241.0 367.0 Z" stroke-width="10"/>
<path d="M335.0 380.0 L342.0 378.0 L350.0 377.6 L360.0 376.0 L370.0 373.4 L373.6 374.0 L373.0 377.0 L366.0 380.0 L358.0 383.0 L348.0 384.4 L340.0 384.0 L336.0 382.4 Z" stroke-width="10"/>
<path d="M382.4 369.0 L386.0 364.0 L390.0 359.0 L394.0 356.0 L402.0 353.6 L403.6 355.0 L399.0 359.0 L394.0 363.0 L388.0 368.0 L384.0 370.6 Z" stroke-width="10"/>
<path d="M456.5 353.6 L461.3 352.0 L470.7 351.7 L482.6 350.8 L487.3 347.7 L490.8 346.5 L496.7 348.9 L503.8 351.7 L513.3 356.0 L522.7 359.6 L534.6 362.6 L546.4 365.5 L558.2 367.8 L570.0 369.7 L579.5 369.0 L583.0 367.8 L584.2 370.2 L579.5 373.7 L570.0 376.1 L558.2 374.4 L546.4 372.1 L534.6 369.0 L522.7 367.4 L513.3 364.3 L503.8 358.8 L494.4 356.0 L484.9 356.0 L475.5 358.8 L466.0 357.9 L458.9 356.0 Z" stroke-width="10"/>
<path d="M616.1 380.8 L622.0 382.5 L629.1 384.8 L638.6 387.2 L645.7 386.3 L652.8 382.5 L659.9 380.8 L667.0 382.0 L672.9 379.6 L672.4 383.9 L667.0 387.9 L657.5 391.0 L648.0 392.6 L638.6 393.4 L629.1 389.1 L622.0 386.7 L617.3 384.8 Z" stroke-width="10"/>
<path d="M603.8 371.4 L606.0 369.7 L607.4 372.1 L605.5 374.4 Z" stroke-width="10"/>
<path d="M397.0 505.6 L402.0 506.0 L409.0 513.0 L415.0 524.0 L421.0 536.0 L425.0 548.0 L428.0 560.0 L430.4 574.0 L432.0 588.0 L433.0 602.0 L433.0 616.0 L432.0 630.0 L431.0 644.0 L430.0 658.0 L428.0 672.0 L426.0 686.0 L423.0 700.0 L424.5 692.9 L420.7 708.3 L415.5 723.7 L409.1 739.1 L402.7 754.6 L395.0 768.7 L387.2 781.5 L378.3 793.1 L369.3 806.0 L359.0 820.1 L357.7 821.4 L360.3 811.1 L364.1 808.5 L368.0 800.8 L371.8 799.5 L375.7 790.5 L380.8 786.7 L383.4 779.0 L389.8 767.4 L392.4 766.1 L396.2 754.6 L400.9 744.3 L404.0 731.4 L402.7 721.1 L407.8 710.8 L411.7 703.1 L406.5 703.1 L411.7 695.4 L416.8 687.7 L418.1 680.0 L415.0 700.0 L418.0 690.0 L419.0 680.0 L421.0 670.0 L422.0 662.0 L417.0 660.0 L418.0 655.0 L423.0 652.0 L424.0 644.0 L426.4 638.0 L425.0 630.0 L427.0 622.0 L426.0 618.0 L427.2 610.0 L425.0 606.0 L425.6 599.0 L423.0 594.0 L424.4 588.0 L420.0 582.0 L422.4 576.0 L421.0 570.0 L422.0 564.0 L419.6 558.0 L418.0 548.0 L415.0 542.0 L414.0 533.0 L409.6 524.0 L404.0 515.0 L399.0 510.0 Z" stroke-width="10"/>
<path d="M369.0 662.0 L374.0 656.0 L380.0 648.0 L386.0 642.0 L391.0 635.0 L395.0 630.0 L399.0 630.0 L402.0 636.0 L402.0 644.0 L399.0 651.0 L396.0 650.0 L398.0 643.0 L397.0 638.0 L394.0 639.0 L390.0 646.0 L384.0 652.0 L379.0 658.0 L373.0 663.0 L370.0 664.0 Z" stroke-width="10"/>
<path d="M367.8 667.6 L369.0 666.4 L370.2 667.6 L369.0 668.8 Z" stroke-width="10"/>
<path d="M398.0 664.0 L402.0 660.0 L406.0 659.0 L405.0 664.0 L408.0 669.0 L406.0 673.0 L403.0 668.0 L399.0 668.0 Z" stroke-width="10"/>
<path d="M391.0 661.0 L393.0 661.0 L394.4 666.0 L392.4 665.6 Z" stroke-width="10"/>
<path d="M340.2 686.4 L341.6 685.0 L343.0 686.4 L341.6 687.8 Z" stroke-width="10"/>
<path d="M352.8 820.9 L354.1 819.6 L355.1 820.9 L354.1 822.2 Z" stroke-width="10"/>
<path d="M353.6 828.6 L354.6 827.6 L355.6 828.6 L354.6 829.6 Z" stroke-width="10"/>
<path d="M338.4 844.5 L342.3 839.4 L347.4 834.2 L351.3 833.0 L350.0 838.1 L344.8 843.2 L339.7 847.6 Z" stroke-width="10"/>
<path d="M329.9 851.7 L334.0 850.7 L334.6 853.8 L330.4 854.8 Z" stroke-width="10"/>
<path d="M339.7 692.9 L342.8 692.9 L343.5 698.0 L346.1 700.6 L342.8 703.1 L341.0 710.8 L339.7 718.6 L336.6 719.1 L336.6 710.8 L337.9 701.9 Z" stroke-width="10"/>
<path d="M340.5 685.7 L341.7 684.4 L343.0 685.7 L341.7 686.9 Z" stroke-width="10"/>
<path d="M270.3 934.5 L275.4 930.6 L281.9 919.1 L288.3 906.2 L296.0 898.5 L303.7 896.5 L304.2 899.0 L298.6 902.4 L292.1 911.4 L285.7 922.9 L279.3 933.2 L272.9 937.6 Z" stroke-width="10"/>
<path d="M217.0 420.2 L222.7 419.1 L225.1 424.3 L222.7 430.0 L218.6 431.6 L217.0 434.8 L211.4 438.9 L208.9 439.7 L208.1 434.8 L212.2 431.6 L214.6 425.9 Z" stroke-width="5"/>
<path d="M201.6 440.5 L208.9 439.7 L209.7 443.7 L205.7 448.6 L201.6 450.2 L199.2 455.1 L196.0 451.8 L195.2 447.0 L198.4 443.7 Z" stroke-width="5"/>
<path d="M200.0 427.5 L202.5 427.2 L208.1 434.0 L206.8 435.3 Z" stroke-width="5"/>
<path d="M183.8 455.9 L187.9 451.8 L190.3 453.4 L189.5 461.5 L187.1 468.0 L191.1 471.3 L196.8 469.6 L199.2 472.9 L199.2 481.0 L201.6 485.8 L202.5 493.9 L200.8 503.6 L204.9 503.6 L209.7 500.4 L211.4 495.5 L217.0 494.7 L219.5 497.2 L227.6 497.2 L230.8 500.4 L227.6 503.6 L221.1 503.6 L218.6 506.9 L217.8 513.4 L213.8 518.2 L209.7 524.7 L206.5 532.8 L203.3 529.6 L201.6 523.1 L198.4 526.3 L201.6 532.8 L204.9 537.7 L209.7 540.9 L213.0 546.6 L209.7 549.8 L204.9 552.2 L201.6 555.5 L195.2 552.2 L188.7 548.2 L193.5 544.1 L198.4 540.9 L195.2 532.8 L191.9 526.3 L190.3 518.2 L191.1 511.7 L188.7 505.3 L186.3 497.2 L185.4 490.7 L182.2 497.2 L174.1 498.8 L167.6 500.4 L169.3 506.9 L175.7 505.3 L179.8 507.7 L175.7 516.6 L170.9 523.1 L172.5 531.2 L170.1 532.8 L166.8 524.7 L163.6 516.6 L162.8 508.5 L159.5 503.6 L157.9 516.6 L153.1 518.2 L149.8 513.4 L145.0 511.7 L141.7 516.6 L138.5 521.5 L135.2 516.6 L132.0 511.7 L128.0 507.7 L124.7 506.9 L127.1 503.6 L135.2 500.4 L143.3 497.2 L148.2 492.3 L153.1 488.3 L155.5 481.0 L154.7 474.5 L157.1 473.7 L160.3 472.9 L166.0 469.6 L174.1 463.2 L179.0 459.1 Z" stroke-width="5"/>
<path d="M101.2 508.5 L107.7 506.9 L115.8 506.9 L114.2 513.4 L111.0 516.6 L114.2 521.5 L107.7 523.1 L101.2 525.5 Z" stroke-width="5"/>
<path d="M111.8 536.8 L115.0 537.7 L115.8 541.7 L122.3 543.3 L126.3 548.2 L120.7 547.4 L114.2 544.9 L110.1 545.7 L109.3 540.9 Z" stroke-width="5"/>
<path d="M221.1 523.1 L227.6 514.2 L231.6 513.4 L225.9 521.5 L221.9 525.5 Z" stroke-width="5"/>
<path d="M145.8 519.8 L149.8 519.0 L150.1 522.3 L146.6 523.1 Z" stroke-width="5"/>
<path d="M146.6 523.1 L150.6 523.4 L149.8 526.0 L146.6 525.5 Z" stroke-width="5"/>
<path d="M173.3 539.3 L175.7 538.5 L176.5 542.5 L174.1 543.3 Z" stroke-width="5"/>
<path d="M225.9 456.4 L229.2 455.9 L229.5 458.3 L226.7 458.6 Z" stroke-width="5"/>
<path d="M203.3 476.1 L207.3 475.8 L207.5 478.5 L204.1 479.0 Z" stroke-width="5"/>
<path d="M142.5 544.9 L148.2 545.7 L151.4 548.2 L146.6 548.7 Z" stroke-width="5"/>
<path d="M160.3 545.7 L164.4 545.4 L165.2 549.0 L161.2 548.7 Z" stroke-width="5"/>
<path d="M101.2 590.2 L106.1 591.8 L110.1 598.3 L111.0 608.0 L111.8 617.7 L114.2 627.4 L116.6 633.9 L119.1 637.2 L125.5 635.5 L128.0 630.7 L126.3 624.2 L128.0 619.4 L132.8 620.2 L136.1 623.4 L137.7 626.6 L134.4 630.7 L132.8 637.2 L129.6 643.6 L132.8 646.9 L136.9 650.1 L141.7 651.7 L148.2 650.1 L149.8 645.3 L154.7 644.5 L159.5 646.9 L162.8 645.3 L167.6 645.3 L170.1 647.7 L174.1 650.1 L177.4 648.5 L182.2 650.1 L183.8 643.6 L179.0 642.0 L177.4 638.8 L182.2 638.8 L186.3 640.4 L192.7 639.6 L192.7 646.9 L188.7 650.1 L185.4 650.1 L183.0 655.8 L179.0 657.4 L174.1 655.8 L173.3 659.8 L174.9 666.3 L170.9 670.4 L166.0 672.0 L162.8 669.6 L162.0 664.7 L157.9 662.3 L153.1 663.1 L151.4 666.3 L146.6 668.7 L143.3 671.2 L146.6 677.7 L148.2 684.1 L151.4 689.0 L153.9 695.5 L151.4 697.9 L148.2 693.8 L145.0 690.6 L141.7 693.0 L137.7 692.2 L138.5 687.4 L135.2 682.5 L132.8 677.7 L132.8 669.6 L128.8 663.1 L125.5 663.1 L122.3 667.9 L115.8 669.6 L111.0 674.4 L107.7 679.3 L104.5 680.9 L96.4 682.5 L96.4 590.2 Z" stroke-width="5"/>
<path d="M140.1 617.7 L145.0 612.9 L149.8 604.8 L154.7 596.7 L158.7 587.0 L162.8 577.2 L167.6 570.8 L170.1 561.1 L169.3 555.4 L173.3 554.6 L175.7 557.8 L173.3 564.3 L172.5 572.4 L169.3 578.9 L167.6 587.0 L164.4 593.4 L159.5 598.3 L154.7 604.8 L149.8 612.9 L145.0 619.4 L140.9 621.0 Z" stroke-width="5"/>
<path d="M145.0 625.8 L149.8 621.0 L156.3 616.1 L162.8 608.0 L169.3 601.5 L174.1 595.1 L179.0 588.6 L183.8 585.3 L186.3 588.6 L185.4 595.1 L180.6 599.9 L182.2 603.2 L177.4 606.4 L170.9 608.0 L164.4 612.9 L159.5 617.7 L160.3 624.2 L157.9 629.1 L153.1 633.9 L149.8 633.9 L154.7 627.4 L153.1 624.2 L148.2 629.1 L145.0 629.9 Z" stroke-width="5"/>
<path d="M186.3 591.8 L195.2 589.4 L198.4 591.8 L193.5 596.7 L192.7 603.2 L196.8 608.0 L193.5 609.6 L188.7 604.8 L186.3 601.5 Z" stroke-width="5"/>
<path d="M175.7 564.3 L179.0 556.2 L182.2 551.3 L185.4 552.1 L184.6 561.1 L183.8 570.8 L180.6 575.6 L178.2 570.8 Z" stroke-width="5"/>
<path d="M187.1 582.1 L191.9 577.2 L195.2 570.8 L198.4 569.1 L200.8 574.0 L198.4 578.9 L193.5 581.3 L189.5 587.0 L187.1 587.0 Z" stroke-width="5"/>
<path d="M116.6 565.9 L120.7 563.5 L123.9 567.5 L127.1 570.8 L126.3 577.2 L127.1 582.1 L123.9 588.6 L122.3 596.7 L119.1 590.2 L117.4 587.0 L119.9 580.5 L119.1 574.0 L116.6 570.8 Z" stroke-width="5"/>
<path d="M131.2 554.6 L135.2 553.0 L136.9 557.8 L136.1 564.3 L138.5 567.5 L134.4 571.6 L129.6 570.0 L130.4 564.3 L132.8 561.1 Z" stroke-width="5"/>
<path d="M96.4 578.9 L106.1 581.3 L109.3 577.2 L112.6 578.1 L110.1 583.7 L106.1 587.0 L96.4 585.3 Z" stroke-width="5"/>
<path d="M132.8 578.9 L137.7 578.1 L139.3 582.9 L135.2 584.5 Z" stroke-width="5"/>
<path d="M140.9 586.2 L145.0 584.5 L146.6 590.2 L143.3 593.4 L140.4 591.8 Z" stroke-width="5"/>
<path d="M145.8 576.4 L149.8 574.0 L152.3 576.4 L149.0 578.9 L147.4 581.3 Z" stroke-width="5"/>
<path d="M120.7 602.3 L125.5 601.5 L128.0 608.0 L126.3 614.5 L123.9 616.9 L121.5 611.3 Z" stroke-width="5"/>
<path d="M208.9 580.5 L214.6 578.9 L219.5 581.3 L217.8 585.3 L213.0 587.0 L209.7 584.5 Z" stroke-width="5"/>
<path d="M205.7 595.9 L211.4 596.7 L214.6 601.5 L213.0 606.4 L209.7 608.0 L208.1 604.8 L211.4 602.3 L209.7 599.1 L206.2 598.0 Z" stroke-width="5"/>
<path d="M197.6 635.5 L203.3 632.3 L209.7 630.7 L214.6 628.3 L219.5 632.3 L213.0 635.5 L208.1 637.2 L207.3 639.1 L204.9 638.8 L204.1 636.4 L198.4 637.5 Z" stroke-width="5"/>
<path d="M174.1 613.7 L179.0 612.1 L183.8 613.7 L183.0 617.7 L177.4 616.9 Z" stroke-width="5"/>
<path d="M173.3 691.4 L179.0 686.6 L185.4 684.9 L191.1 687.4 L191.9 690.6 L187.9 693.0 L182.2 693.8 L177.4 695.5 L174.1 694.7 Z" stroke-width="5"/>
<path d="M149.8 673.6 L153.9 672.0 L157.1 677.7 L157.9 684.1 L155.5 686.6 L153.1 680.9 L150.6 677.7 Z" stroke-width="5"/>
<path d="M96.4 693.8 L107.7 692.2 L115.8 689.0 L122.3 688.2 L123.9 692.2 L128.8 695.5 L132.0 700.3 L128.8 701.9 L122.3 701.9 L115.8 703.6 L111.0 701.9 L106.1 699.5 L96.4 700.3 Z" stroke-width="5"/>
<path d="M96.4 680.9 L106.1 682.5 L109.3 687.4 L106.1 689.8 L96.4 689.0 Z" stroke-width="5"/>
<path d="M156.3 552.1 L162.0 550.5 L165.2 553.0 L162.8 556.2 L158.7 557.0 Z" stroke-width="5"/>
<path d="M197.6 562.7 L201.6 561.9 L204.1 565.9 L200.0 567.5 Z" stroke-width="5"/>
<path d="M195.2 583.7 L200.0 582.9 L199.2 587.0 L196.0 587.0 Z" stroke-width="5"/>
<path d="M225.1 581.3 L227.6 581.3 L227.6 583.7 L225.4 583.7 Z" stroke-width="5"/>
<path d="M227.6 624.5 L230.0 624.2 L230.5 627.1 L228.0 627.4 Z" stroke-width="5"/>
<path d="M191.1 634.7 L193.2 634.4 L193.5 636.8 L191.4 637.2 Z" stroke-width="5"/>
<path d="M96.4 699.7 L107.7 701.3 L115.8 704.6 L123.9 709.4 L130.4 714.3 L136.9 720.8 L141.7 722.4 L146.6 719.1 L151.4 715.9 L153.9 709.4 L151.4 705.4 L156.3 706.2 L162.8 707.0 L167.6 703.8 L170.1 706.2 L169.3 710.2 L173.3 711.9 L170.9 714.3 L166.0 712.7 L162.8 717.5 L166.0 721.6 L162.8 726.4 L164.4 732.1 L167.6 737.0 L173.3 741.8 L172.5 744.3 L167.6 741.8 L162.8 743.4 L154.7 745.1 L148.2 741.8 L145.0 737.0 L141.7 730.5 L135.2 727.2 L128.8 724.0 L123.9 726.4 L118.2 728.9 L114.2 724.0 L109.3 720.0 L104.5 718.3 L96.4 720.0 Z" stroke-width="5"/>
<path d="M96.4 690.0 L114.2 690.0 L122.3 691.6 L130.4 696.5 L132.0 700.5 L127.1 699.7 L122.3 702.1 L114.2 699.7 L107.7 697.3 L96.4 696.5 Z" stroke-width="5"/>
<path d="M113.4 752.3 L119.1 751.5 L124.7 752.3 L129.6 756.4 L128.0 761.3 L123.9 759.6 L120.7 756.4 L116.6 757.2 L117.4 761.3 L113.4 762.9 L113.4 759.6 L115.0 756.4 Z" stroke-width="5"/>
<path d="M174.1 751.5 L177.4 751.5 L179.0 759.6 L179.8 766.9 L178.2 768.5 L174.9 765.3 L173.3 761.3 L174.9 756.4 Z" stroke-width="5"/>
<path d="M99.0 795.0 L104.0 794.0 L106.0 800.0 L108.5 803.0 L106.5 806.5 L102.0 804.0 L99.0 800.0 Z" stroke-width="5"/>
<path d="M136.9 690.0 L151.4 690.0 L153.9 696.5 L149.8 697.3 L145.0 693.2 L138.5 692.4 Z" stroke-width="5"/>
<ellipse cx="150" cy="302" rx="11" ry="9" stroke="none"/>
<ellipse cx="440" cy="245" rx="16" ry="7" stroke="none"/>
<path d="M512 268 L530 262 L560 255 L585 268 L610 272 L612 300 L590 290 L575 278 L540 272 L515 274 Z" stroke="none"/>
<ellipse cx="592" cy="283" rx="16" ry="9" stroke="none"/>
<ellipse cx="765" cy="278" rx="26" ry="22" stroke="none"/>
<ellipse cx="535" cy="270" rx="30" ry="7" stroke="none"/>
<ellipse cx="801" cy="336" rx="12" ry="8" stroke="none"/>
<ellipse cx="838" cy="340" rx="9" ry="5" stroke="none"/>
<ellipse cx="268" cy="365" rx="31" ry="14" stroke="none"/>
<ellipse cx="357" cy="394" rx="18" ry="10" stroke="none"/>
<ellipse cx="382" cy="362" rx="10" ry="12" stroke="none"/>
<path d="M458 352 L500 351 L540 354 L585 362 L588 378 L560 380 L500 372 L458 366 Z" stroke="none"/>
<ellipse cx="642" cy="399" rx="27" ry="9" stroke="none"/>
<ellipse cx="853" cy="394" rx="10" ry="7" stroke="none"/>
<ellipse cx="596" cy="376" rx="10" ry="8" stroke="none"/>
<ellipse cx="338" cy="706" rx="9" ry="14" stroke="none"/>
<ellipse cx="292" cy="926" rx="11" ry="11" stroke="none"/>
<ellipse cx="120" cy="772" rx="12" ry="9" stroke="none"/>
<ellipse cx="178" cy="776" rx="9" ry="12" stroke="none"/>
<ellipse cx="352" cy="842" rx="12" ry="9" stroke="none"/>
<ellipse cx="410" cy="752" rx="10" ry="14" stroke="none"/>
<path d="M427 728 L415 763 L399 793 L385 815" fill="none" stroke-width="13"/>
<path d="M397 518 L404 535 L409 552" fill="none" stroke-width="16"/>
<path d="M409 552 L415 575 L419 600 L421 630 L421 660 L418 690" fill="none" stroke-width="9"/>
<path d="M392 672 L402 688 L412 702" fill="none" stroke-width="24"/>
<path d="M100 560 L118 555 L128 590 L150 585 L175 540 L205 470 L215 440 L232 450 L228 500 L222 540 L228 580 L218 610 L196 625 L192 660 L188 690 L165 715 L130 705 L100 700 Z" stroke="none"/>
</g>
<path d="M841.2 243.1 L838.8 228.0 L848.3 229.5 Z M881.7 246.6 L889.6 233.4 L895.9 240.6 Z M154.0 317.7 L156.1 302.4 L164.8 306.7 Z M206.6 309.9 L221.4 305.8 L220.9 315.4 Z M264.4 307.6 L279.7 308.0 L276.5 317.1 Z M327.9 317.7 L325.4 302.5 L334.9 304.0 Z M378.5 316.7 L386.6 303.7 L392.8 311.0 Z M432.2 313.7 L444.8 304.8 L447.6 314.0 Z M481.6 308.3 L496.6 305.1 L495.6 314.6 Z M539.1 309.3 L553.9 305.3 L553.4 314.9 Z M616.6 312.6 L603.6 304.5 L610.9 298.3 Z M663.0 318.3 L670.7 304.9 L677.1 312.1 Z M713.2 307.8 L728.4 305.3 L726.9 314.8 Z M761.3 327.1 L770.7 314.9 L776.0 322.9 Z M825.3 327.7 L832.4 314.1 L839.1 321.0 Z M877.8 315.5 L890.9 307.6 L893.1 316.9 Z M144.6 390.3 L159.2 385.5 L159.2 395.1 Z M201.4 389.6 L216.2 385.6 L215.7 395.2 Z M260.9 385.7 L276.3 386.9 L272.5 395.8 Z M323.4 384.3 L336.9 391.7 L329.9 398.3 Z M377.3 391.1 L391.4 385.0 L392.3 394.6 Z M433.8 390.6 L448.2 385.3 L448.6 394.9 Z M482.1 390.3 L496.7 385.5 L496.7 395.1 Z M535.4 387.2 L550.5 384.5 L549.2 394.0 Z M593.1 396.1 L605.9 387.7 L608.4 397.0 Z M657.9 390.3 L672.5 385.5 L672.5 395.1 Z M702.1 395.5 L715.5 388.0 L717.3 397.5 Z M770.7 400.7 L780.1 388.6 L785.5 396.5 Z M822.6 390.3 L837.2 385.5 L837.2 395.1 Z M891.5 406.4 L894.4 391.3 L902.8 396.0 Z M145.6 466.4 L160.9 466.3 L158.0 475.5 Z M265.0 460.1 L277.2 469.5 L269.2 474.9 Z M320.0 467.4 L335.4 467.3 L332.4 476.4 Z M378.0 476.5 L386.7 463.9 L392.5 471.5 Z M431.5 469.1 L446.5 465.8 L445.5 475.4 Z M486.5 467.6 L501.8 465.7 L499.9 475.1 Z M565.7 473.6 L550.3 472.5 L553.9 463.6 Z M621.4 462.3 L615.7 476.6 L608.3 470.4 Z M658.8 479.1 L668.2 467.0 L673.5 475.0 Z M718.7 475.3 L729.8 464.6 L734.0 473.2 Z M782.0 461.4 L792.5 472.6 L783.8 476.7 Z M851.5 477.0 L837.1 471.5 L843.2 464.1 Z M100.5 538.3 L105.3 552.9 L95.7 552.9 Z M142.3 532.7 L155.5 540.6 L148.3 546.9 Z M189.8 550.3 L204.4 545.5 L204.4 555.1 Z M259.7 534.6 L272.4 543.2 L264.9 549.1 Z M316.1 548.7 L331.2 545.7 L330.0 555.3 Z M378.0 547.6 L393.4 547.6 L390.4 556.7 Z M447.7 563.9 L438.7 551.5 L447.8 548.5 Z M499.9 535.3 L505.2 549.7 L495.6 550.1 Z M556.0 537.7 L562.6 551.6 L553.1 552.8 Z M616.2 541.0 L618.6 556.2 L609.2 554.7 Z M679.3 554.6 L664.3 551.5 L669.1 543.1 Z M735.7 550.3 L721.1 555.1 L721.1 545.5 Z M797.1 539.7 L790.0 553.3 L783.3 546.4 Z M858.0 544.6 L846.1 554.4 L842.7 545.4 Z M216.7 623.6 L217.3 638.9 L208.1 636.3 Z M259.3 625.2 L274.6 626.2 L271.0 635.1 Z M331.4 621.9 L332.0 637.3 L322.8 634.6 Z M375.1 623.7 L390.1 627.1 L385.2 635.3 Z M445.3 644.2 L438.5 630.4 L448.0 629.0 Z M497.8 620.4 L506.2 633.2 L496.9 635.7 Z M556.5 609.5 L562.1 623.9 L552.5 624.4 Z M618.4 611.3 L620.3 626.5 L610.9 624.7 Z M683.3 615.6 L678.1 630.1 L670.5 624.2 Z M743.6 607.0 L739.9 621.9 L731.8 616.8 Z M802.7 603.2 L799.2 618.1 L791.0 613.1 Z M861.8 617.8 L852.3 630.0 L847.0 622.0 Z M152.3 704.4 L165.6 712.0 L158.5 718.4 Z M217.2 700.0 L218.5 715.3 L209.2 713.1 Z M277.5 699.3 L275.1 714.5 L266.6 710.2 Z M326.0 718.8 L326.4 703.4 L335.5 706.7 Z M378.6 715.2 L388.3 703.2 L393.5 711.3 Z M443.9 720.6 L438.3 706.3 L447.9 705.8 Z M507.8 699.8 L503.3 714.5 L495.5 709.0 Z M562.6 694.0 L562.9 709.4 L553.7 706.6 Z M617.2 688.1 L620.3 703.2 L610.8 702.1 Z M675.7 688.6 L677.9 703.8 L668.4 702.2 Z M735.7 690.4 L735.6 705.8 L726.5 702.7 Z M792.1 676.2 L794.3 691.4 L784.9 689.8 Z M842.7 677.7 L847.7 692.2 L838.2 692.4 Z M110.5 789.4 L96.3 795.5 L95.5 785.9 Z M161.8 778.8 L161.3 794.2 L152.3 790.9 Z M225.4 775.1 L221.0 789.8 L213.1 784.3 Z M280.5 794.1 L265.2 792.6 L269.1 783.8 Z M325.6 799.7 L326.1 784.3 L335.1 787.6 Z M387.5 779.4 L390.5 794.5 L381.0 793.3 Z M454.7 774.6 L450.0 789.2 L442.3 783.6 Z M512.8 771.3 L508.8 786.2 L500.8 781.0 Z M571.5 762.3 L569.3 777.5 L560.7 773.2 Z M630.8 750.4 L629.8 765.8 L620.9 762.2 Z M682.7 749.1 L683.6 764.4 L674.3 762.0 Z M729.0 756.5 L733.8 771.1 L724.2 771.1 Z M784.9 755.6 L790.2 770.0 L780.6 770.4 Z M828.6 759.4 L839.2 770.5 L830.5 774.7 Z M890.9 759.3 L899.8 771.9 L890.6 774.7 Z M101.2 862.3 L104.7 877.3 L95.1 876.5 Z M167.8 859.8 L161.1 873.6 L154.2 867.0 Z M224.4 860.7 L217.5 874.4 L210.7 867.6 Z M279.5 875.8 L264.9 871.1 L270.5 863.4 Z M341.2 864.6 L330.0 875.2 L325.9 866.5 Z M403.1 842.8 L399.6 857.8 L391.4 852.7 Z M455.9 837.1 L455.2 852.5 L446.2 849.1 Z M510.5 833.9 L511.3 849.2 L502.0 846.7 Z M577.2 831.4 L574.9 846.6 L566.4 842.3 Z M632.5 833.8 L630.4 849.0 L621.8 844.8 Z M680.0 848.2 L679.5 863.5 L670.5 860.2 Z M742.9 846.6 L739.7 861.6 L731.4 856.7 Z M798.9 841.0 L797.5 856.3 L788.7 852.4 Z M846.1 832.9 L849.8 847.8 L840.2 847.1 Z M884.6 840.9 L895.7 851.5 L887.3 856.0 Z M169.0 934.6 L164.3 949.2 L156.6 943.6 Z M222.8 943.6 L214.7 956.6 L208.5 949.3 Z M340.5 922.0 L339.4 937.4 L330.5 933.8 Z M397.7 905.2 L398.7 920.6 L389.4 918.2 Z M443.3 909.8 L448.1 924.4 L438.5 924.4 Z M499.2 915.9 L504.6 930.3 L495.0 930.7 Z M560.4 916.5 L564.0 931.5 L554.4 930.7 Z M617.2 914.7 L621.0 929.6 L611.4 928.9 Z M674.3 910.8 L678.2 925.7 L668.6 925.0 Z M734.7 905.9 L737.6 921.0 L728.1 919.7 Z M794.7 908.9 L796.4 924.1 L787.0 922.2 Z M861.0 907.0 L859.9 922.3 L851.0 918.7 Z" fill="#000" stroke="#000" stroke-width="0.5" stroke-linejoin="miter"/>
<path d="M900.4 230.3 L892.7 237.0 M500.4 310.3 L496.1 309.8 M557.6 310.3 L553.7 310.1 M786.1 310.3 L773.4 318.9 M843.3 310.3 L835.8 317.5 M900.4 310.3 L892.0 312.2 M500.4 390.3 L496.7 390.3 M557.6 390.3 L549.9 389.2 M614.7 390.3 L607.2 392.3 M729.0 390.3 L716.4 392.7 M786.1 390.3 L782.8 392.5 M843.3 390.3 L837.2 390.3 M900.4 390.3 L898.6 393.6 M157.6 550.3 L151.9 543.7 M214.8 550.3 L204.4 550.3 M271.9 550.3 L268.6 546.1 M557.6 630.3 L557.3 624.1 M614.7 630.3 L615.6 625.6 M671.9 630.3 L674.3 627.1 M729.0 630.3 L735.8 619.4 M786.1 630.3 L795.1 615.6 M843.3 630.3 L849.6 626.0 M557.6 710.3 L558.3 708.0 M614.7 710.3 L615.6 702.6 M671.9 710.3 L673.1 703.0 M729.0 710.3 L731.0 704.2 M786.1 710.3 L789.6 690.6 M843.3 710.3 L842.9 692.3 M214.8 790.3 L217.1 787.0 M443.3 790.3 L446.1 786.4 M500.4 790.3 L504.8 783.6 M557.6 790.3 L565.0 775.3 M614.7 790.3 L625.4 764.0 M671.9 790.3 L679.0 763.2 M729.0 790.3 L729.0 771.1 M786.1 790.3 L785.4 770.2 M843.3 790.3 L834.9 772.6 M900.4 790.3 L895.2 773.3 M386.2 870.3 L395.5 855.2 M443.3 870.3 L450.7 850.8 M500.4 870.3 L506.6 847.9 M557.6 870.3 L570.7 844.4 M614.7 870.3 L626.1 846.9 M671.9 870.3 L675.0 861.9 M729.0 870.3 L735.5 859.2 M786.1 870.3 L793.1 854.3 M843.3 870.3 L845.0 847.5 M900.4 870.3 L891.5 853.7 M157.6 950.3 L160.5 946.4 M329.0 950.3 L335.0 935.6 M386.2 950.3 L394.1 919.4 M443.3 950.3 L443.3 924.4 M500.4 950.3 L499.8 930.5 M557.6 950.3 L559.2 931.1 M614.7 950.3 L616.2 929.3 M671.9 950.3 L673.4 925.3 M729.0 950.3 L732.8 920.3 M786.1 950.3 L791.7 923.2 M843.3 950.3 L855.5 920.5" fill="none" stroke="#000" stroke-width="1.6"/>
<g fill="#116b25" stroke="#000" stroke-width="1" stroke-linejoin="round">
<path d="M90.0 140.0 L850.0 140.0 L842.9 150.0 L844.9 160.3 L845.5 170.6 L842.9 180.9 L839.0 188.6 L841.6 201.4 L842.4 216.9 L840.8 234.9 L839.0 252.9 L835.2 265.7 L830.0 278.6 L824.9 288.9 L821.8 299.2 L822.8 314.6 L822.4 316.4 L820.0 309.1 L817.3 298.2 L819.1 290.9 L822.7 285.5 L824.5 278.2 L824.0 272.7 L821.8 272.7 L819.1 276.4 L817.3 281.8 L815.5 286.4 L810.9 288.2 L803.6 290.0 L796.4 292.7 L790.0 295.5 L787.6 290.9 L787.3 283.6 L788.2 276.4 L790.9 269.1 L792.4 261.8 L794.5 259.1 L799.1 258.2 L792.7 257.3 L785.5 259.1 L779.1 260.0 L776.4 256.4 L770.9 252.7 L763.6 250.9 L756.4 248.2 L752.7 245.5 L747.3 243.6 L741.8 241.8 L739.1 239.1 L732.7 238.2 L729.1 240.9 L727.3 245.5 L726.4 251.8 L723.6 254.2 L720.9 252.7 L720.0 246.4 L718.2 243.6 L720.0 240.9 L720.0 236.4 L717.3 232.7 L712.7 230.0 L709.1 226.4 L705.5 227.3 L702.7 230.0 L700.9 226.4 L698.2 224.5 L696.4 227.3 L694.5 234.5 L691.8 231.8 L687.3 234.5 L683.6 236.4 L680.9 242.7 L679.1 239.1 L676.4 239.1 L673.6 241.8 L670.9 242.7 L667.3 240.9 L665.5 244.5 L667.3 248.2 L670.0 251.8 L673.6 254.5 L674.5 260.0 L677.3 263.6 L681.5 261.8 L682.2 263.6 L678.2 267.3 L674.5 271.8 L670.0 275.5 L665.5 276.4 L663.6 272.7 L662.7 266.4 L653.6 266.4 L647.3 265.5 L645.5 262.7 L641.8 260.0 L644.5 268.2 L645.5 274.5 L643.6 281.8 L640.0 287.3 L637.3 290.9 L630.0 294.5 L622.7 294.5 L615.5 293.6 L614.5 301.8 L613.6 307.3 L612.9 301.8 L611.8 294.5 L610.9 287.3 L611.5 280.0 L612.2 272.7 L610.9 268.2 L609.6 272.7 L608.2 280.0 L606.7 285.5 L604.5 284.5 L600.9 280.0 L597.3 276.4 L588.2 275.5 L579.1 275.5 L578.2 272.7 L578.2 262.7 L576.7 262.7 L576.4 272.7 L573.6 273.6 L569.1 270.9 L568.2 267.3 L564.5 262.7 L567.3 260.0 L566.4 256.4 L559.1 253.6 L555.5 250.9 L554.5 245.5 L555.5 238.2 L556.9 232.7 L555.1 227.3 L553.6 221.8 L551.8 219.1 L550.0 220.9 L550.9 227.3 L552.7 232.7 L551.8 240.0 L551.3 247.3 L550.0 251.8 L544.5 254.5 L539.1 259.1 L533.6 260.9 L526.4 260.9 L521.8 260.0 L519.1 261.8 L512.7 264.5 L508.2 269.1 L502.7 273.6 L495.5 276.4 L486.4 276.4 L477.3 274.5 L470.0 271.8 L471.8 270.9 L464.5 266.4 L457.3 260.9 L448.2 252.7 L440.9 245.5 L435.5 241.3 L438.2 240.9 L442.7 242.7 L448.2 244.5 L452.7 245.5 L457.3 246.0 L458.2 243.6 L451.8 242.4 L448.2 240.0 L445.5 236.9 L441.8 237.6 L437.3 235.1 L433.6 231.8 L430.0 227.3 L424.5 224.5 L419.1 220.9 L417.3 217.3 L415.5 213.6 L413.6 210.0 L416.4 208.2 L414.5 204.5 L410.9 206.0 L406.4 207.3 L401.3 207.3 L401.8 210.0 L399.1 212.7 L397.3 211.5 L393.6 212.2 L389.1 212.7 L384.5 211.5 L382.7 209.1 L380.9 207.8 L375.5 208.2 L370.9 209.6 L370.9 207.3 L369.1 205.5 L366.4 207.3 L366.9 210.9 L369.1 213.6 L372.7 213.3 L377.3 213.6 L380.4 215.5 L380.9 218.2 L386.4 219.1 L391.8 219.5 L396.4 219.1 L399.1 220.9 L402.7 221.8 L406.4 224.5 L408.2 228.2 L410.0 233.6 L410.0 238.7 L406.4 238.7 L399.1 236.9 L391.8 235.8 L380.9 236.0 L366.4 236.9 L351.8 238.2 L337.3 240.0 L324.5 241.8 L311.8 245.5 L300.9 249.1 L290.0 252.7 L290.9 253.6 L281.8 258.2 L279.1 262.7 L277.3 269.1 L274.5 272.7 L272.7 267.3 L270.9 262.7 L263.6 265.5 L254.5 269.1 L241.8 274.5 L230.9 280.0 L220.0 285.5 L209.1 289.1 L198.2 294.5 L185.5 300.0 L172.7 304.5 L160.9 307.8 L160.0 302.7 L159.6 297.3 L160.0 291.8 L160.9 286.4 L161.8 285.5 L164.5 284.5 L168.2 283.6 L170.9 281.8 L172.7 277.3 L175.5 275.5 L180.0 276.4 L184.5 275.1 L178.2 274.0 L172.7 273.3 L168.2 270.9 L164.5 269.1 L163.6 267.3 L166.4 263.6 L169.1 260.0 L165.5 260.9 L162.7 263.6 L160.0 266.4 L160.9 262.7 L159.1 258.2 L154.5 257.6 L151.8 259.1 L149.1 260.0 L150.9 256.4 L150.0 252.7 L148.2 250.0 L140.9 250.9 L131.8 253.6 L125.5 257.3 L120.0 263.6 L116.4 268.2 L112.7 272.7 L113.6 277.3 L117.3 277.3 L112.7 280.9 L108.2 281.3 L102.7 280.5 L108.2 282.4 L113.6 282.7 L118.2 280.0 L121.8 277.3 L125.5 276.4 L130.0 277.3 L136.4 283.6 L140.4 292.7 L143.6 298.2 L140.9 303.6 L136.4 310.0 L129.1 317.3 L120.0 324.5 L110.9 332.7 L101.8 339.1 L90.0 342.0 Z"/>
<path d="M393.6 239.1 L399.1 238.7 L408.2 242.7 L417.3 247.3 L424.5 251.8 L430.0 257.3 L432.7 261.8 L431.8 264.5 L429.1 261.8 L424.5 257.3 L417.3 252.7 L408.2 247.3 L399.1 242.7 L394.5 240.9 Z"/>
<path d="M562.7 280.0 L568.2 277.8 L576.4 277.3 L577.3 285.5 L580.9 290.9 L586.4 298.2 L588.2 300.9 L585.5 300.9 L581.8 295.5 L579.1 292.7 L573.6 294.5 L567.3 290.9 L563.6 285.5 Z"/>
<path d="M588.2 304.0 L591.5 303.6 L592.2 305.8 L590.0 307.3 L588.2 306.4 Z"/>
<path d="M562.7 310.0 L565.5 309.1 L568.2 312.7 L569.1 316.0 L565.5 316.7 L563.6 313.6 Z"/>
<path d="M650.0 290.5 L652.7 289.1 L655.1 290.9 L654.0 293.1 L650.9 293.3 Z"/>
<path d="M750.9 254.5 L754.5 253.6 L754.9 261.8 L754.2 272.7 L755.5 280.0 L754.9 287.3 L752.7 290.9 L750.0 289.1 L749.1 283.6 L747.3 281.8 L749.1 278.2 L750.5 269.1 L750.0 261.8 Z"/>
<path d="M701.5 236.0 L705.5 235.5 L710.0 236.4 L709.5 238.5 L705.5 239.3 L701.8 238.5 Z"/>
<path d="M730.9 251.3 L733.6 251.3 L734.0 253.3 L731.5 253.8 Z"/>
<path d="M650.0 290.5 L652.7 289.1 L655.1 290.9 L654.5 293.1 L651.3 293.5 Z"/>
<path d="M769.1 291.8 L773.6 290.9 L776.0 292.7 L774.5 295.1 L770.5 295.3 Z"/>
<path d="M778.7 292.4 L780.9 291.8 L781.5 295.5 L779.6 296.4 Z"/>
<path d="M783.6 282.7 L785.5 282.7 L785.8 286.4 L784.0 286.9 Z"/>
<path d="M810.0 276.4 L812.4 275.5 L814.5 280.9 L815.5 284.5 L812.7 282.7 Z"/>
<path d="M734.0 362.5 L740.0 360.5 L758.0 356.0 L770.0 354.0 L780.0 352.3 L789.1 348.6 L798.2 347.3 L807.3 345.9 L816.4 344.5 L819.1 343.6 L822.7 345.5 L825.5 346.8 L827.3 344.5 L824.5 340.9 L824.5 339.1 L827.3 339.5 L830.9 341.4 L832.3 338.2 L834.5 336.4 L837.3 339.1 L839.1 341.4 L842.7 342.7 L845.5 344.1 L849.1 343.6 L851.8 345.5 L852.7 349.5 L851.8 353.2 L847.3 355.0 L841.8 355.9 L836.4 355.5 L830.9 353.6 L825.5 352.3 L818.2 351.4 L807.3 351.4 L798.2 351.8 L789.1 353.2 L780.0 354.5 L770.0 357.0 L758.0 360.0 L740.0 364.5 L734.0 366.0 Z"/>
<path d="M824.1 319.3 L826.8 319.5 L828.2 321.8 L831.8 321.4 L837.3 325.9 L842.7 331.4 L848.2 336.8 L853.6 342.3 L855.0 345.0 L852.7 345.5 L849.1 343.8 L843.6 339.3 L838.2 334.4 L834.5 331.6 L831.8 332.0 L830.0 329.3 L827.3 324.7 L822.7 326.5 L825.5 323.2 Z"/>
<path d="M841.6 376.3 L845.5 377.6 L850.6 382.8 L857.0 386.1 L863.5 387.4 L862.9 390.5 L855.7 389.7 L848.0 386.6 L842.9 381.5 Z"/>
<path d="M869.9 387.9 L872.2 385.3 L873.7 387.1 L871.7 390.5 Z"/>
<path d="M884.0 364.8 L891.7 362.2 L904.6 360.9 L904.6 371.7 L891.7 372.5 L885.3 373.8 L882.2 371.2 Z"/>
<path d="M240.0 365.0 L246.0 364.0 L254.0 364.4 L262.0 365.6 L270.0 366.4 L277.0 366.0 L281.0 367.0 L285.0 362.0 L288.0 354.0 L290.0 351.0 L293.0 352.0 L292.4 358.0 L290.0 366.0 L286.0 374.0 L282.0 380.0 L278.0 385.0 L276.0 385.0 L278.0 380.0 L277.0 377.0 L273.0 379.0 L266.0 379.0 L265.0 375.0 L270.0 373.0 L262.0 370.0 L254.0 369.0 L246.0 368.0 L241.0 367.0 Z"/>
<path d="M335.0 380.0 L342.0 378.0 L350.0 377.6 L360.0 376.0 L370.0 373.4 L373.6 374.0 L373.0 377.0 L366.0 380.0 L358.0 383.0 L348.0 384.4 L340.0 384.0 L336.0 382.4 Z"/>
<path d="M382.4 369.0 L386.0 364.0 L390.0 359.0 L394.0 356.0 L402.0 353.6 L403.6 355.0 L399.0 359.0 L394.0 363.0 L388.0 368.0 L384.0 370.6 Z"/>
<path d="M456.5 353.6 L461.3 352.0 L470.7 351.7 L482.6 350.8 L487.3 347.7 L490.8 346.5 L496.7 348.9 L503.8 351.7 L513.3 356.0 L522.7 359.6 L534.6 362.6 L546.4 365.5 L558.2 367.8 L570.0 369.7 L579.5 369.0 L583.0 367.8 L584.2 370.2 L579.5 373.7 L570.0 376.1 L558.2 374.4 L546.4 372.1 L534.6 369.0 L522.7 367.4 L513.3 364.3 L503.8 358.8 L494.4 356.0 L484.9 356.0 L475.5 358.8 L466.0 357.9 L458.9 356.0 Z"/>
<path d="M616.1 380.8 L622.0 382.5 L629.1 384.8 L638.6 387.2 L645.7 386.3 L652.8 382.5 L659.9 380.8 L667.0 382.0 L672.9 379.6 L672.4 383.9 L667.0 387.9 L657.5 391.0 L648.0 392.6 L638.6 393.4 L629.1 389.1 L622.0 386.7 L617.3 384.8 Z"/>
<path d="M603.8 371.4 L606.0 369.7 L607.4 372.1 L605.5 374.4 Z"/>
<path d="M397.0 505.6 L402.0 506.0 L409.0 513.0 L415.0 524.0 L421.0 536.0 L425.0 548.0 L428.0 560.0 L430.4 574.0 L432.0 588.0 L433.0 602.0 L433.0 616.0 L432.0 630.0 L431.0 644.0 L430.0 658.0 L428.0 672.0 L426.0 686.0 L423.0 700.0 L424.5 692.9 L420.7 708.3 L415.5 723.7 L409.1 739.1 L402.7 754.6 L395.0 768.7 L387.2 781.5 L378.3 793.1 L369.3 806.0 L359.0 820.1 L357.7 821.4 L360.3 811.1 L364.1 808.5 L368.0 800.8 L371.8 799.5 L375.7 790.5 L380.8 786.7 L383.4 779.0 L389.8 767.4 L392.4 766.1 L396.2 754.6 L400.9 744.3 L404.0 731.4 L402.7 721.1 L407.8 710.8 L411.7 703.1 L406.5 703.1 L411.7 695.4 L416.8 687.7 L418.1 680.0 L415.0 700.0 L418.0 690.0 L419.0 680.0 L421.0 670.0 L422.0 662.0 L417.0 660.0 L418.0 655.0 L423.0 652.0 L424.0 644.0 L426.4 638.0 L425.0 630.0 L427.0 622.0 L426.0 618.0 L427.2 610.0 L425.0 606.0 L425.6 599.0 L423.0 594.0 L424.4 588.0 L420.0 582.0 L422.4 576.0 L421.0 570.0 L422.0 564.0 L419.6 558.0 L418.0 548.0 L415.0 542.0 L414.0 533.0 L409.6 524.0 L404.0 515.0 L399.0 510.0 Z"/>
<path d="M369.0 662.0 L374.0 656.0 L380.0 648.0 L386.0 642.0 L391.0 635.0 L395.0 630.0 L399.0 630.0 L402.0 636.0 L402.0 644.0 L399.0 651.0 L396.0 650.0 L398.0 643.0 L397.0 638.0 L394.0 639.0 L390.0 646.0 L384.0 652.0 L379.0 658.0 L373.0 663.0 L370.0 664.0 Z"/>
<path d="M367.8 667.6 L369.0 666.4 L370.2 667.6 L369.0 668.8 Z"/>
<path d="M398.0 664.0 L402.0 660.0 L406.0 659.0 L405.0 664.0 L408.0 669.0 L406.0 673.0 L403.0 668.0 L399.0 668.0 Z"/>
<path d="M391.0 661.0 L393.0 661.0 L394.4 666.0 L392.4 665.6 Z"/>
<path d="M340.2 686.4 L341.6 685.0 L343.0 686.4 L341.6 687.8 Z"/>
<path d="M352.8 820.9 L354.1 819.6 L355.1 820.9 L354.1 822.2 Z"/>
<path d="M353.6 828.6 L354.6 827.6 L355.6 828.6 L354.6 829.6 Z"/>
<path d="M338.4 844.5 L342.3 839.4 L347.4 834.2 L351.3 833.0 L350.0 838.1 L344.8 843.2 L339.7 847.6 Z"/>
<path d="M329.9 851.7 L334.0 850.7 L334.6 853.8 L330.4 854.8 Z"/>
<path d="M339.7 692.9 L342.8 692.9 L343.5 698.0 L346.1 700.6 L342.8 703.1 L341.0 710.8 L339.7 718.6 L336.6 719.1 L336.6 710.8 L337.9 701.9 Z"/>
<path d="M340.5 685.7 L341.7 684.4 L343.0 685.7 L341.7 686.9 Z"/>
<path d="M270.3 934.5 L275.4 930.6 L281.9 919.1 L288.3 906.2 L296.0 898.5 L303.7 896.5 L304.2 899.0 L298.6 902.4 L292.1 911.4 L285.7 922.9 L279.3 933.2 L272.9 937.6 Z"/>
<path d="M217.0 420.2 L222.7 419.1 L225.1 424.3 L222.7 430.0 L218.6 431.6 L217.0 434.8 L211.4 438.9 L208.9 439.7 L208.1 434.8 L212.2 431.6 L214.6 425.9 Z"/>
<path d="M201.6 440.5 L208.9 439.7 L209.7 443.7 L205.7 448.6 L201.6 450.2 L199.2 455.1 L196.0 451.8 L195.2 447.0 L198.4 443.7 Z"/>
<path d="M200.0 427.5 L202.5 427.2 L208.1 434.0 L206.8 435.3 Z"/>
<path d="M183.8 455.9 L187.9 451.8 L190.3 453.4 L189.5 461.5 L187.1 468.0 L191.1 471.3 L196.8 469.6 L199.2 472.9 L199.2 481.0 L201.6 485.8 L202.5 493.9 L200.8 503.6 L204.9 503.6 L209.7 500.4 L211.4 495.5 L217.0 494.7 L219.5 497.2 L227.6 497.2 L230.8 500.4 L227.6 503.6 L221.1 503.6 L218.6 506.9 L217.8 513.4 L213.8 518.2 L209.7 524.7 L206.5 532.8 L203.3 529.6 L201.6 523.1 L198.4 526.3 L201.6 532.8 L204.9 537.7 L209.7 540.9 L213.0 546.6 L209.7 549.8 L204.9 552.2 L201.6 555.5 L195.2 552.2 L188.7 548.2 L193.5 544.1 L198.4 540.9 L195.2 532.8 L191.9 526.3 L190.3 518.2 L191.1 511.7 L188.7 505.3 L186.3 497.2 L185.4 490.7 L182.2 497.2 L174.1 498.8 L167.6 500.4 L169.3 506.9 L175.7 505.3 L179.8 507.7 L175.7 516.6 L170.9 523.1 L172.5 531.2 L170.1 532.8 L166.8 524.7 L163.6 516.6 L162.8 508.5 L159.5 503.6 L157.9 516.6 L153.1 518.2 L149.8 513.4 L145.0 511.7 L141.7 516.6 L138.5 521.5 L135.2 516.6 L132.0 511.7 L128.0 507.7 L124.7 506.9 L127.1 503.6 L135.2 500.4 L143.3 497.2 L148.2 492.3 L153.1 488.3 L155.5 481.0 L154.7 474.5 L157.1 473.7 L160.3 472.9 L166.0 469.6 L174.1 463.2 L179.0 459.1 Z"/>
<path d="M101.2 508.5 L107.7 506.9 L115.8 506.9 L114.2 513.4 L111.0 516.6 L114.2 521.5 L107.7 523.1 L101.2 525.5 Z"/>
<path d="M111.8 536.8 L115.0 537.7 L115.8 541.7 L122.3 543.3 L126.3 548.2 L120.7 547.4 L114.2 544.9 L110.1 545.7 L109.3 540.9 Z"/>
<path d="M221.1 523.1 L227.6 514.2 L231.6 513.4 L225.9 521.5 L221.9 525.5 Z"/>
<path d="M145.8 519.8 L149.8 519.0 L150.1 522.3 L146.6 523.1 Z"/>
<path d="M146.6 523.1 L150.6 523.4 L149.8 526.0 L146.6 525.5 Z"/>
<path d="M173.3 539.3 L175.7 538.5 L176.5 542.5 L174.1 543.3 Z"/>
<path d="M225.9 456.4 L229.2 455.9 L229.5 458.3 L226.7 458.6 Z"/>
<path d="M203.3 476.1 L207.3 475.8 L207.5 478.5 L204.1 479.0 Z"/>
<path d="M142.5 544.9 L148.2 545.7 L151.4 548.2 L146.6 548.7 Z"/>
<path d="M160.3 545.7 L164.4 545.4 L165.2 549.0 L161.2 548.7 Z"/>
<path d="M101.2 590.2 L106.1 591.8 L110.1 598.3 L111.0 608.0 L111.8 617.7 L114.2 627.4 L116.6 633.9 L119.1 637.2 L125.5 635.5 L128.0 630.7 L126.3 624.2 L128.0 619.4 L132.8 620.2 L136.1 623.4 L137.7 626.6 L134.4 630.7 L132.8 637.2 L129.6 643.6 L132.8 646.9 L136.9 650.1 L141.7 651.7 L148.2 650.1 L149.8 645.3 L154.7 644.5 L159.5 646.9 L162.8 645.3 L167.6 645.3 L170.1 647.7 L174.1 650.1 L177.4 648.5 L182.2 650.1 L183.8 643.6 L179.0 642.0 L177.4 638.8 L182.2 638.8 L186.3 640.4 L192.7 639.6 L192.7 646.9 L188.7 650.1 L185.4 650.1 L183.0 655.8 L179.0 657.4 L174.1 655.8 L173.3 659.8 L174.9 666.3 L170.9 670.4 L166.0 672.0 L162.8 669.6 L162.0 664.7 L157.9 662.3 L153.1 663.1 L151.4 666.3 L146.6 668.7 L143.3 671.2 L146.6 677.7 L148.2 684.1 L151.4 689.0 L153.9 695.5 L151.4 697.9 L148.2 693.8 L145.0 690.6 L141.7 693.0 L137.7 692.2 L138.5 687.4 L135.2 682.5 L132.8 677.7 L132.8 669.6 L128.8 663.1 L125.5 663.1 L122.3 667.9 L115.8 669.6 L111.0 674.4 L107.7 679.3 L104.5 680.9 L96.4 682.5 L96.4 590.2 Z"/>
<path d="M140.1 617.7 L145.0 612.9 L149.8 604.8 L154.7 596.7 L158.7 587.0 L162.8 577.2 L167.6 570.8 L170.1 561.1 L169.3 555.4 L173.3 554.6 L175.7 557.8 L173.3 564.3 L172.5 572.4 L169.3 578.9 L167.6 587.0 L164.4 593.4 L159.5 598.3 L154.7 604.8 L149.8 612.9 L145.0 619.4 L140.9 621.0 Z"/>
<path d="M145.0 625.8 L149.8 621.0 L156.3 616.1 L162.8 608.0 L169.3 601.5 L174.1 595.1 L179.0 588.6 L183.8 585.3 L186.3 588.6 L185.4 595.1 L180.6 599.9 L182.2 603.2 L177.4 606.4 L170.9 608.0 L164.4 612.9 L159.5 617.7 L160.3 624.2 L157.9 629.1 L153.1 633.9 L149.8 633.9 L154.7 627.4 L153.1 624.2 L148.2 629.1 L145.0 629.9 Z"/>
<path d="M186.3 591.8 L195.2 589.4 L198.4 591.8 L193.5 596.7 L192.7 603.2 L196.8 608.0 L193.5 609.6 L188.7 604.8 L186.3 601.5 Z"/>
<path d="M175.7 564.3 L179.0 556.2 L182.2 551.3 L185.4 552.1 L184.6 561.1 L183.8 570.8 L180.6 575.6 L178.2 570.8 Z"/>
<path d="M187.1 582.1 L191.9 577.2 L195.2 570.8 L198.4 569.1 L200.8 574.0 L198.4 578.9 L193.5 581.3 L189.5 587.0 L187.1 587.0 Z"/>
<path d="M116.6 565.9 L120.7 563.5 L123.9 567.5 L127.1 570.8 L126.3 577.2 L127.1 582.1 L123.9 588.6 L122.3 596.7 L119.1 590.2 L117.4 587.0 L119.9 580.5 L119.1 574.0 L116.6 570.8 Z"/>
<path d="M131.2 554.6 L135.2 553.0 L136.9 557.8 L136.1 564.3 L138.5 567.5 L134.4 571.6 L129.6 570.0 L130.4 564.3 L132.8 561.1 Z"/>
<path d="M96.4 578.9 L106.1 581.3 L109.3 577.2 L112.6 578.1 L110.1 583.7 L106.1 587.0 L96.4 585.3 Z"/>
<path d="M132.8 578.9 L137.7 578.1 L139.3 582.9 L135.2 584.5 Z"/>
<path d="M140.9 586.2 L145.0 584.5 L146.6 590.2 L143.3 593.4 L140.4 591.8 Z"/>
<path d="M145.8 576.4 L149.8 574.0 L152.3 576.4 L149.0 578.9 L147.4 581.3 Z"/>
<path d="M120.7 602.3 L125.5 601.5 L128.0 608.0 L126.3 614.5 L123.9 616.9 L121.5 611.3 Z"/>
<path d="M208.9 580.5 L214.6 578.9 L219.5 581.3 L217.8 585.3 L213.0 587.0 L209.7 584.5 Z"/>
<path d="M205.7 595.9 L211.4 596.7 L214.6 601.5 L213.0 606.4 L209.7 608.0 L208.1 604.8 L211.4 602.3 L209.7 599.1 L206.2 598.0 Z"/>
<path d="M197.6 635.5 L203.3 632.3 L209.7 630.7 L214.6 628.3 L219.5 632.3 L213.0 635.5 L208.1 637.2 L207.3 639.1 L204.9 638.8 L204.1 636.4 L198.4 637.5 Z"/>
<path d="M174.1 613.7 L179.0 612.1 L183.8 613.7 L183.0 617.7 L177.4 616.9 Z"/>
<path d="M173.3 691.4 L179.0 686.6 L185.4 684.9 L191.1 687.4 L191.9 690.6 L187.9 693.0 L182.2 693.8 L177.4 695.5 L174.1 694.7 Z"/>
<path d="M149.8 673.6 L153.9 672.0 L157.1 677.7 L157.9 684.1 L155.5 686.6 L153.1 680.9 L150.6 677.7 Z"/>
<path d="M96.4 693.8 L107.7 692.2 L115.8 689.0 L122.3 688.2 L123.9 692.2 L128.8 695.5 L132.0 700.3 L128.8 701.9 L122.3 701.9 L115.8 703.6 L111.0 701.9 L106.1 699.5 L96.4 700.3 Z"/>
<path d="M96.4 680.9 L106.1 682.5 L109.3 687.4 L106.1 689.8 L96.4 689.0 Z"/>
<path d="M156.3 552.1 L162.0 550.5 L165.2 553.0 L162.8 556.2 L158.7 557.0 Z"/>
<path d="M197.6 562.7 L201.6 561.9 L204.1 565.9 L200.0 567.5 Z"/>
<path d="M195.2 583.7 L200.0 582.9 L199.2 587.0 L196.0 587.0 Z"/>
<path d="M225.1 581.3 L227.6 581.3 L227.6 583.7 L225.4 583.7 Z"/>
<path d="M227.6 624.5 L230.0 624.2 L230.5 627.1 L228.0 627.4 Z"/>
<path d="M191.1 634.7 L193.2 634.4 L193.5 636.8 L191.4 637.2 Z"/>
<path d="M96.4 699.7 L107.7 701.3 L115.8 704.6 L123.9 709.4 L130.4 714.3 L136.9 720.8 L141.7 722.4 L146.6 719.1 L151.4 715.9 L153.9 709.4 L151.4 705.4 L156.3 706.2 L162.8 707.0 L167.6 703.8 L170.1 706.2 L169.3 710.2 L173.3 711.9 L170.9 714.3 L166.0 712.7 L162.8 717.5 L166.0 721.6 L162.8 726.4 L164.4 732.1 L167.6 737.0 L173.3 741.8 L172.5 744.3 L167.6 741.8 L162.8 743.4 L154.7 745.1 L148.2 741.8 L145.0 737.0 L141.7 730.5 L135.2 727.2 L128.8 724.0 L123.9 726.4 L118.2 728.9 L114.2 724.0 L109.3 720.0 L104.5 718.3 L96.4 720.0 Z"/>
<path d="M96.4 690.0 L114.2 690.0 L122.3 691.6 L130.4 696.5 L132.0 700.5 L127.1 699.7 L122.3 702.1 L114.2 699.7 L107.7 697.3 L96.4 696.5 Z"/>
<path d="M113.4 752.3 L119.1 751.5 L124.7 752.3 L129.6 756.4 L128.0 761.3 L123.9 759.6 L120.7 756.4 L116.6 757.2 L117.4 761.3 L113.4 762.9 L113.4 759.6 L115.0 756.4 Z"/>
<path d="M174.1 751.5 L177.4 751.5 L179.0 759.6 L179.8 766.9 L178.2 768.5 L174.9 765.3 L173.3 761.3 L174.9 756.4 Z"/>
<path d="M99.0 795.0 L104.0 794.0 L106.0 800.0 L108.5 803.0 L106.5 806.5 L102.0 804.0 L99.0 800.0 Z"/>
<path d="M136.9 690.0 L151.4 690.0 L153.9 696.5 L149.8 697.3 L145.0 693.2 L138.5 692.4 Z"/>
</g>
<g fill="#858587" stroke="#000" stroke-width="0.8" stroke-linejoin="round">
<path d="M179.8 478.5 L184.6 477.7 L185.4 484.2 L183.8 490.7 L180.6 487.4 L179.0 482.6 Z"/>
<path d="M188.7 488.3 L195.2 487.4 L197.6 490.7 L195.2 497.2 L193.5 503.6 L189.5 502.0 L187.9 495.5 Z"/>
<path d="M160.3 481.0 L166.0 479.4 L169.3 484.2 L166.0 488.3 L162.0 485.8 Z"/>
<path d="M198.4 516.6 L204.9 513.4 L209.7 518.2 L206.5 524.7 L201.6 527.9 L197.6 523.1 Z"/>
<path d="M167.6 471.3 L170.9 468.8 L171.7 472.1 L169.3 473.7 Z"/>
<path d="M122.3 645.3 L125.5 644.5 L125.9 647.7 L122.6 648.2 Z"/>
<path d="M151.4 659.0 L158.7 658.2 L159.5 660.6 L152.3 661.5 Z"/>
<path d="M107.7 635.5 L112.6 632.3 L115.0 635.5 L111.0 638.8 Z"/>
<path d="M135.2 669.6 L140.1 667.9 L140.9 674.4 L136.9 676.0 Z"/>
<path d="M125.5 707.8 L130.4 711.1 L128.8 713.5 L124.7 711.1 Z"/>
<path d="M151.4 727.2 L154.7 726.4 L155.5 729.7 L152.3 730.5 Z"/>
</g>
</g>
<path d="M757.6 150.3 V950.05 M614.7 150.3 V950.05 M471.9 150.3 V950.05 M329.0 150.3 V950.05 M186.2 150.3 V950.05 M100.55 350.2 H900.5 M100.55 550.2 H900.5 M100.55 750.1 H900.5" stroke="#bebebe" stroke-opacity="0.55" stroke-width="1.9" fill="none"/>
<path d="M757.6 150.3 V950.05 M614.7 150.3 V950.05 M471.9 150.3 V950.05 M329.0 150.3 V950.05 M186.2 150.3 V950.05 M100.55 350.2 H900.5 M100.55 550.2 H900.5 M100.55 750.1 H900.5" stroke="#bebebe" stroke-width="1.9" fill="none" style="mix-blend-mode:luminosity"/>
<g clip-path="url(#mapclip)">
<circle cx="283" cy="341" r="6" fill="#fff" stroke="#000" stroke-width="1.9"/>
<circle cx="445" cy="489.3" r="6" fill="#fff" stroke="#000" stroke-width="1.9"/>
<circle cx="566.7" cy="488.3" r="6" fill="#fff" stroke="#000" stroke-width="1.9"/>
<path d="M142.5 282.5 L149.0 289 L142.5 295.5 L136.0 289 Z" fill="#ffe81a" stroke="#000" stroke-width="1.8"/>
<path d="M578.2 249.0 L584.7 255.5 L578.2 262.0 L571.7 255.5 Z" fill="#ffe81a" stroke="#000" stroke-width="1.8"/>
<path d="M660 256.2 L666.5 262.7 L660 269.2 L653.5 262.7 Z" fill="#ffe81a" stroke="#000" stroke-width="1.8"/>
<path d="M819.8 296.7 L826.3 303.2 L819.8 309.7 L813.3 303.2 Z" fill="#ffe81a" stroke="#000" stroke-width="1.8"/>
<path d="M778.4 337.1 L784.9 343.6 L778.4 350.1 L771.9 343.6 Z" fill="#ffe81a" stroke="#000" stroke-width="1.8"/>
<path d="M856.7 343.4 L863.2 349.9 L856.7 356.4 L850.2 349.9 Z" fill="#ffe81a" stroke="#000" stroke-width="1.8"/>
<path d="M611.4 373.6 L617.9 380.1 L611.4 386.6 L604.9 380.1 Z" fill="#ffe81a" stroke="#000" stroke-width="1.8"/>
</g>
<rect x="100.55" y="150.3" width="799.95" height="799.75" fill="none" stroke="#000" stroke-width="2.7"/>
<path d="M900.40 150.3 V142.0 M900.40 950.05 V958.3499999999999 M757.56 150.3 V142.0 M757.56 950.05 V958.3499999999999 M614.72 150.3 V142.0 M614.72 950.05 V958.3499999999999 M471.88 150.3 V142.0 M471.88 950.05 V958.3499999999999 M329.04 150.3 V142.0 M329.04 950.05 V958.3499999999999 M186.20 150.3 V142.0 M186.20 950.05 V958.3499999999999 M100.55 150.30 H92.25 M900.5 150.30 H907.9 M100.55 350.24 H92.25 M900.5 350.24 H907.9 M100.55 550.17 H92.25 M900.5 550.17 H907.9 M100.55 750.11 H92.25 M900.5 750.11 H907.9 M100.55 950.05 H92.25 M900.5 950.05 H907.9" stroke="#000" stroke-width="1.9" fill="none"/>
<path d="M886.12 150.3 V145.9 M886.12 950.05 V954.4499999999999 M871.83 150.3 V145.9 M871.83 950.05 V954.4499999999999 M857.55 150.3 V145.9 M857.55 950.05 V954.4499999999999 M843.26 150.3 V145.9 M843.26 950.05 V954.4499999999999 M828.98 150.3 V145.9 M828.98 950.05 V954.4499999999999 M814.70 150.3 V145.9 M814.70 950.05 V954.4499999999999 M800.41 150.3 V145.9 M800.41 950.05 V954.4499999999999 M786.13 150.3 V145.9 M786.13 950.05 V954.4499999999999 M771.84 150.3 V145.9 M771.84 950.05 V954.4499999999999 M743.28 150.3 V145.9 M743.28 950.05 V954.4499999999999 M728.99 150.3 V145.9 M728.99 950.05 V954.4499999999999 M714.71 150.3 V145.9 M714.71 950.05 V954.4499999999999 M700.42 150.3 V145.9 M700.42 950.05 V954.4499999999999 M686.14 150.3 V145.9 M686.14 950.05 V954.4499999999999 M671.86 150.3 V145.9 M671.86 950.05 V954.4499999999999 M657.57 150.3 V145.9 M657.57 950.05 V954.4499999999999 M643.29 150.3 V145.9 M643.29 950.05 V954.4499999999999 M629.01 150.3 V145.9 M629.01 950.05 V954.4499999999999 M600.44 150.3 V145.9 M600.44 950.05 V954.4499999999999 M586.15 150.3 V145.9 M586.15 950.05 V954.4499999999999 M571.87 150.3 V145.9 M571.87 950.05 V954.4499999999999 M557.59 150.3 V145.9 M557.59 950.05 V954.4499999999999 M543.30 150.3 V145.9 M543.30 950.05 V954.4499999999999 M529.02 150.3 V145.9 M529.02 950.05 V954.4499999999999 M514.73 150.3 V145.9 M514.73 950.05 V954.4499999999999 M500.45 150.3 V145.9 M500.45 950.05 V954.4499999999999 M486.17 150.3 V145.9 M486.17 950.05 V954.4499999999999 M457.60 150.3 V145.9 M457.60 950.05 V954.4499999999999 M443.31 150.3 V145.9 M443.31 950.05 V954.4499999999999 M429.03 150.3 V145.9 M429.03 950.05 V954.4499999999999 M414.75 150.3 V145.9 M414.75 950.05 V954.4499999999999 M400.46 150.3 V145.9 M400.46 950.05 V954.4499999999999 M386.18 150.3 V145.9 M386.18 950.05 V954.4499999999999 M371.89 150.3 V145.9 M371.89 950.05 V954.4499999999999 M357.61 150.3 V145.9 M357.61 950.05 V954.4499999999999 M343.33 150.3 V145.9 M343.33 950.05 V954.4499999999999 M314.76 150.3 V145.9 M314.76 950.05 V954.4499999999999 M300.48 150.3 V145.9 M300.48 950.05 V954.4499999999999 M286.19 150.3 V145.9 M286.19 950.05 V954.4499999999999 M271.91 150.3 V145.9 M271.91 950.05 V954.4499999999999 M257.62 150.3 V145.9 M257.62 950.05 V954.4499999999999 M243.34 150.3 V145.9 M243.34 950.05 V954.4499999999999 M229.06 150.3 V145.9 M229.06 950.05 V954.4499999999999 M214.77 150.3 V145.9 M214.77 950.05 V954.4499999999999 M200.49 150.3 V145.9 M200.49 950.05 V954.4499999999999 M171.92 150.3 V145.9 M171.92 950.05 V954.4499999999999 M157.64 150.3 V145.9 M157.64 950.05 V954.4499999999999 M143.35 150.3 V145.9 M143.35 950.05 V954.4499999999999 M129.07 150.3 V145.9 M129.07 950.05 V954.4499999999999 M114.78 150.3 V145.9 M114.78 950.05 V954.4499999999999 M100.50 150.3 V145.9 M100.50 950.05 V954.4499999999999 M100.55 170.29 H96.14999999999999 M900.5 170.29 H904.0 M100.55 190.29 H96.14999999999999 M900.5 190.29 H904.0 M100.55 210.28 H96.14999999999999 M900.5 210.28 H904.0 M100.55 230.28 H96.14999999999999 M900.5 230.28 H904.0 M100.55 250.27 H96.14999999999999 M900.5 250.27 H904.0 M100.55 270.26 H96.14999999999999 M900.5 270.26 H904.0 M100.55 290.26 H96.14999999999999 M900.5 290.26 H904.0 M100.55 310.25 H96.14999999999999 M900.5 310.25 H904.0 M100.55 330.24 H96.14999999999999 M900.5 330.24 H904.0 M100.55 370.23 H96.14999999999999 M900.5 370.23 H904.0 M100.55 390.23 H96.14999999999999 M900.5 390.23 H904.0 M100.55 410.22 H96.14999999999999 M900.5 410.22 H904.0 M100.55 430.21 H96.14999999999999 M900.5 430.21 H904.0 M100.55 450.21 H96.14999999999999 M900.5 450.21 H904.0 M100.55 470.20 H96.14999999999999 M900.5 470.20 H904.0 M100.55 490.19 H96.14999999999999 M900.5 490.19 H904.0 M100.55 510.19 H96.14999999999999 M900.5 510.19 H904.0 M100.55 530.18 H96.14999999999999 M900.5 530.18 H904.0 M100.55 570.17 H96.14999999999999 M900.5 570.17 H904.0 M100.55 590.16 H96.14999999999999 M900.5 590.16 H904.0 M100.55 610.16 H96.14999999999999 M900.5 610.16 H904.0 M100.55 630.15 H96.14999999999999 M900.5 630.15 H904.0 M100.55 650.14 H96.14999999999999 M900.5 650.14 H904.0 M100.55 670.14 H96.14999999999999 M900.5 670.14 H904.0 M100.55 690.13 H96.14999999999999 M900.5 690.13 H904.0 M100.55 710.12 H96.14999999999999 M900.5 710.12 H904.0 M100.55 730.12 H96.14999999999999 M900.5 730.12 H904.0 M100.55 770.11 H96.14999999999999 M900.5 770.11 H904.0 M100.55 790.10 H96.14999999999999 M900.5 790.10 H904.0 M100.55 810.09 H96.14999999999999 M900.5 810.09 H904.0 M100.55 830.09 H96.14999999999999 M900.5 830.09 H904.0 M100.55 850.08 H96.14999999999999 M900.5 850.08 H904.0 M100.55 870.08 H96.14999999999999 M900.5 870.08 H904.0 M100.55 890.07 H96.14999999999999 M900.5 890.07 H904.0 M100.55 910.06 H96.14999999999999 M900.5 910.06 H904.0 M100.55 930.06 H96.14999999999999 M900.5 930.06 H904.0" stroke="#000" stroke-width="1.1" fill="none"/>
<text x="899.5" y="135.9" text-anchor="middle" style="font-family:&quot;Liberation Sans&quot;,sans-serif;font-size:11px">−88°00'</text>
<text x="899.5" y="974" text-anchor="middle" style="font-family:&quot;Liberation Sans&quot;,sans-serif;font-size:11px">−88°00'</text>
<text x="756.7" y="135.9" text-anchor="middle" style="font-family:&quot;Liberation Sans&quot;,sans-serif;font-size:11px">−88°15'</text>
<text x="756.7" y="974" text-anchor="middle" style="font-family:&quot;Liberation Sans&quot;,sans-serif;font-size:11px">−88°15'</text>
<text x="613.8" y="135.9" text-anchor="middle" style="font-family:&quot;Liberation Sans&quot;,sans-serif;font-size:11px">−88°30'</text>
<text x="613.8" y="974" text-anchor="middle" style="font-family:&quot;Liberation Sans&quot;,sans-serif;font-size:11px">−88°30'</text>
<text x="471.0" y="135.9" text-anchor="middle" style="font-family:&quot;Liberation Sans&quot;,sans-serif;font-size:11px">−88°45'</text>
<text x="471.0" y="974" text-anchor="middle" style="font-family:&quot;Liberation Sans&quot;,sans-serif;font-size:11px">−88°45'</text>
<text x="328.1" y="135.9" text-anchor="middle" style="font-family:&quot;Liberation Sans&quot;,sans-serif;font-size:11px">−89°00'</text>
<text x="328.1" y="974" text-anchor="middle" style="font-family:&quot;Liberation Sans&quot;,sans-serif;font-size:11px">−89°00'</text>
<text x="185.3" y="135.9" text-anchor="middle" style="font-family:&quot;Liberation Sans&quot;,sans-serif;font-size:11px">−89°15'</text>
<text x="185.3" y="974" text-anchor="middle" style="font-family:&quot;Liberation Sans&quot;,sans-serif;font-size:11px">−89°15'</text>
<text x="84" y="154.6" text-anchor="end" style="font-family:&quot;Liberation Sans&quot;,sans-serif;font-size:11px">30°30'</text>
<text x="916" y="154.1" text-anchor="start" style="font-family:&quot;Liberation Sans&quot;,sans-serif;font-size:11px">30°30'</text>
<text x="84" y="354.5" text-anchor="end" style="font-family:&quot;Liberation Sans&quot;,sans-serif;font-size:11px">30°15'</text>
<text x="916" y="354.0" text-anchor="start" style="font-family:&quot;Liberation Sans&quot;,sans-serif;font-size:11px">30°15'</text>
<text x="84" y="554.5" text-anchor="end" style="font-family:&quot;Liberation Sans&quot;,sans-serif;font-size:11px">30°00'</text>
<text x="916" y="554.0" text-anchor="start" style="font-family:&quot;Liberation Sans&quot;,sans-serif;font-size:11px">30°00'</text>
<text x="84" y="754.4" text-anchor="end" style="font-family:&quot;Liberation Sans&quot;,sans-serif;font-size:11px">29°45'</text>
<text x="916" y="753.9" text-anchor="start" style="font-family:&quot;Liberation Sans&quot;,sans-serif;font-size:11px">29°45'</text>
<text x="84" y="954.3" text-anchor="end" style="font-family:&quot;Liberation Sans&quot;,sans-serif;font-size:11px">29°30'</text>
<text x="916" y="953.8" text-anchor="start" style="font-family:&quot;Liberation Sans&quot;,sans-serif;font-size:11px">29°30'</text>
<rect x="980.2" y="400.2" width="20.2" height="300" fill="url(#cb)" stroke="#000" stroke-width="3"/>
<line x1="979.4" y1="700.2" x2="1001.2" y2="700.2" stroke="#dcdcdc" stroke-opacity="0.8" stroke-width="1.8"/>
<line x1="1001.9" y1="700.2" x2="1008" y2="700.2" stroke="#222" stroke-width="1.4"/>
<text x="1015" y="704.1" style="font-family:&quot;Liberation Sans&quot;,sans-serif;font-size:11px">18</text>
<line x1="979.4" y1="650.2" x2="1001.2" y2="650.2" stroke="#dcdcdc" stroke-opacity="0.8" stroke-width="1.8"/>
<line x1="1001.9" y1="650.2" x2="1008" y2="650.2" stroke="#222" stroke-width="1.4"/>
<text x="1015" y="654.1" style="font-family:&quot;Liberation Sans&quot;,sans-serif;font-size:11px">21</text>
<line x1="979.4" y1="600.2" x2="1001.2" y2="600.2" stroke="#dcdcdc" stroke-opacity="0.8" stroke-width="1.8"/>
<line x1="1001.9" y1="600.2" x2="1008" y2="600.2" stroke="#222" stroke-width="1.4"/>
<text x="1015" y="604.1" style="font-family:&quot;Liberation Sans&quot;,sans-serif;font-size:11px">24</text>
<line x1="979.4" y1="550.2" x2="1001.2" y2="550.2" stroke="#dcdcdc" stroke-opacity="0.8" stroke-width="1.8"/>
<line x1="1001.9" y1="550.2" x2="1008" y2="550.2" stroke="#222" stroke-width="1.4"/>
<text x="1015" y="554.1" style="font-family:&quot;Liberation Sans&quot;,sans-serif;font-size:11px">27</text>
<line x1="979.4" y1="500.2" x2="1001.2" y2="500.2" stroke="#dcdcdc" stroke-opacity="0.8" stroke-width="1.8"/>
<line x1="1001.9" y1="500.2" x2="1008" y2="500.2" stroke="#222" stroke-width="1.4"/>
<text x="1015" y="504.1" style="font-family:&quot;Liberation Sans&quot;,sans-serif;font-size:11px">30</text>
<line x1="979.4" y1="450.2" x2="1001.2" y2="450.2" stroke="#dcdcdc" stroke-opacity="0.8" stroke-width="1.8"/>
<line x1="1001.9" y1="450.2" x2="1008" y2="450.2" stroke="#222" stroke-width="1.4"/>
<text x="1015" y="454.1" style="font-family:&quot;Liberation Sans&quot;,sans-serif;font-size:11px">33</text>
<line x1="979.4" y1="400.2" x2="1001.2" y2="400.2" stroke="#dcdcdc" stroke-opacity="0.8" stroke-width="1.8"/>
<line x1="1001.9" y1="400.2" x2="1008" y2="400.2" stroke="#222" stroke-width="1.4"/>
<text x="1015" y="404.1" style="font-family:&quot;Liberation Sans&quot;,sans-serif;font-size:11px">36</text>
<text transform="translate(1055,550) rotate(-90)" text-anchor="middle" style="font-family:&quot;Liberation Sans&quot;,sans-serif;font-weight:bold;font-size:13.8px">Salinity (psu)</text>
</svg>
</body></html>
